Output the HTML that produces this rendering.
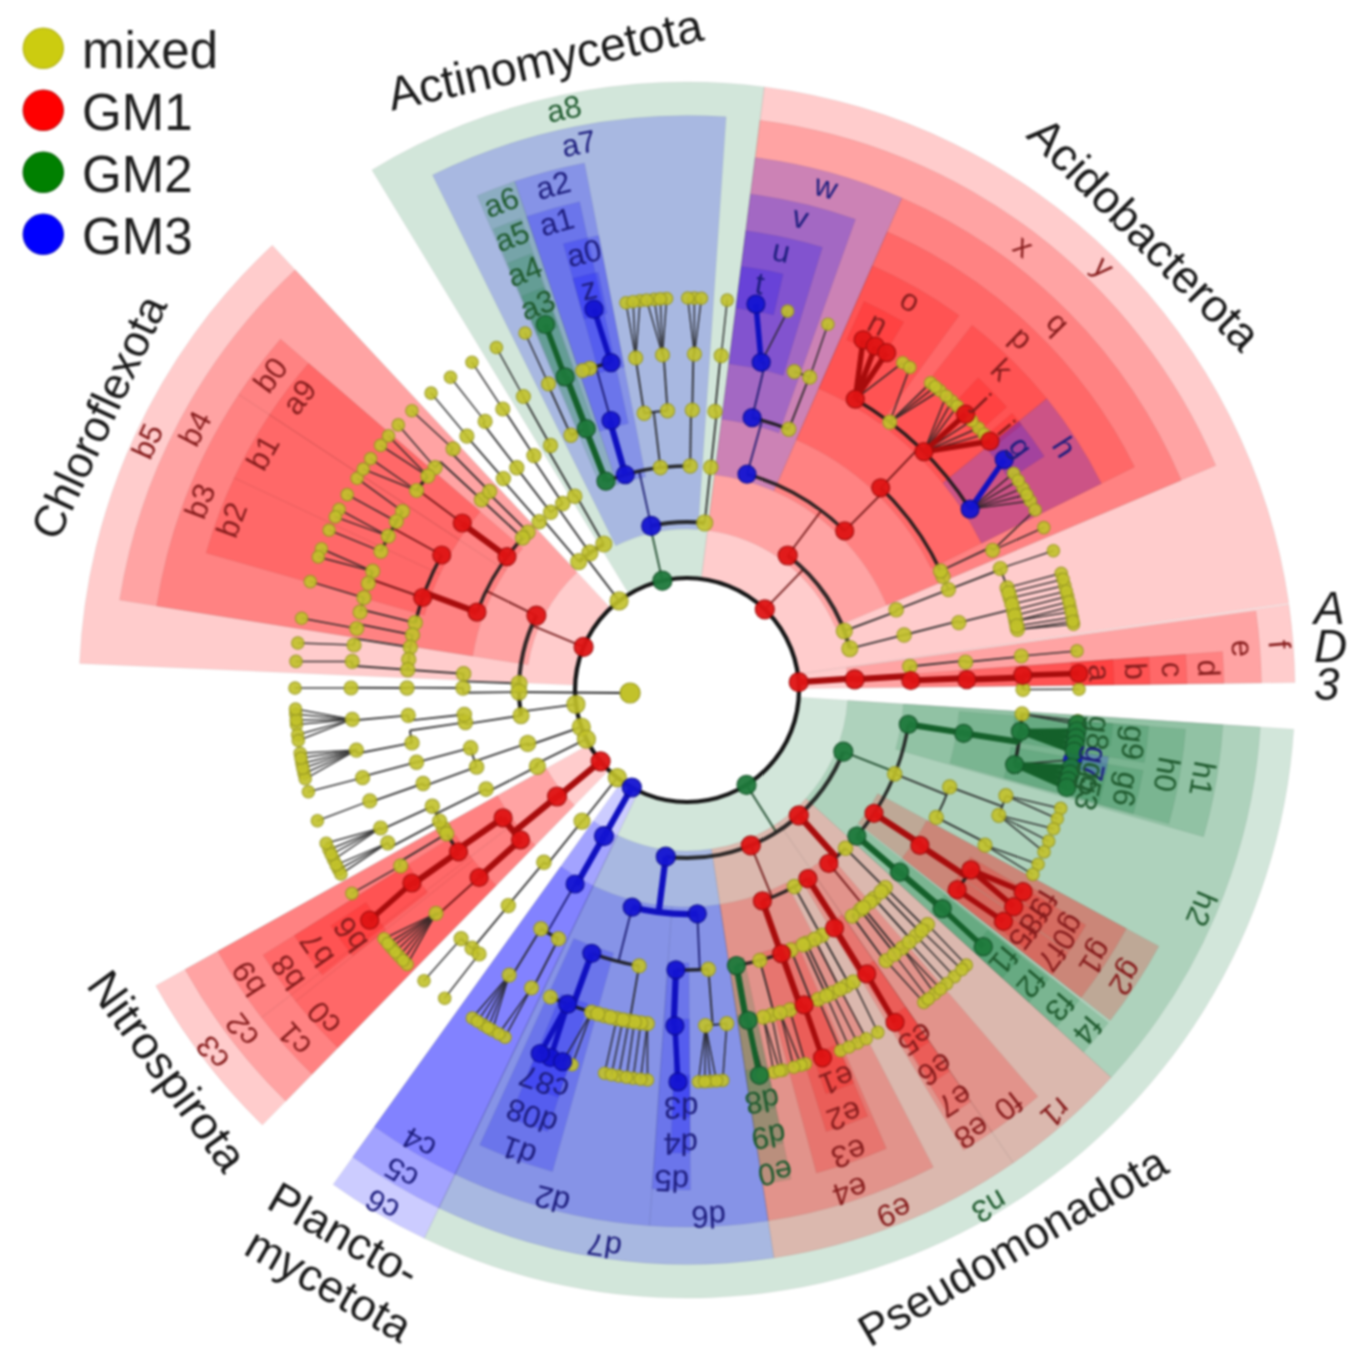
<!DOCTYPE html>
<html><head><meta charset="utf-8"><style>
html,body{margin:0;padding:0;background:#fff;}
svg{display:block;font-family:"Liberation Sans",sans-serif;filter:blur(1.0px);}
</style></head><body>
<svg width="1366" height="1371" viewBox="0 0 1366 1371">
<rect width="1366" height="1371" fill="#ffffff"/>
<path d="M79.6,663.5 A608,608 0 0 1 272.3,245.3 L609.9,607.4 A113,113 0 0 0 574.1,685.1Z" fill="#ff0000" fill-opacity="0.2" stroke="#000" stroke-opacity="0.05" stroke-width="1"/>
<path d="M372.0,169.9 A608,608 0 0 1 764.3,86.9 L701.4,577.9 A113,113 0 0 0 628.5,593.3Z" fill="#1e8246" fill-opacity="0.2" stroke="#000" stroke-opacity="0.05" stroke-width="1"/>
<path d="M764.3,86.9 A608,608 0 0 1 1288.8,603.3 L798.8,673.9 A113,113 0 0 0 701.4,577.9Z" fill="#ff0000" fill-opacity="0.2" stroke="#000" stroke-opacity="0.05" stroke-width="1"/>
<path d="M1288.9,604.3 A608,608 0 0 1 1295.0,682.6 L800.0,688.6 A113,113 0 0 0 798.9,674.1Z" fill="#ff0000" fill-opacity="0.2" stroke="#000" stroke-opacity="0.05" stroke-width="1"/>
<path d="M1293.7,729.2 A608,608 0 0 1 424.3,1238.3 L638.2,791.9 A113,113 0 0 0 799.8,697.3Z" fill="#1e8246" fill-opacity="0.2" stroke="#000" stroke-opacity="0.05" stroke-width="1"/>
<path d="M424.3,1238.3 A608,608 0 0 1 333.1,1184.4 L621.2,781.9 A113,113 0 0 0 638.2,791.9Z" fill="#0000ff" fill-opacity="0.2" stroke="#000" stroke-opacity="0.05" stroke-width="1"/>
<path d="M262.4,1125.1 A608,608 0 0 1 155.7,985.7 L588.3,745.0 A113,113 0 0 0 608.1,770.9Z" fill="#ff0000" fill-opacity="0.2" stroke="#000" stroke-opacity="0.05" stroke-width="1"/>
<path d="M119.6,600.1 A574.5,574.5 0 0 1 295.2,269.8 L577.2,572.3 A161,161 0 0 0 528.0,664.8Z" fill="#ff0000" fill-opacity="0.2" stroke="#000" stroke-opacity="0.05" stroke-width="1"/>
<path d="M432.5,175.0 A574.5,574.5 0 0 1 726.1,116.8 L698.0,529.4 A161,161 0 0 0 615.7,545.7Z" fill="#0000ff" fill-opacity="0.2" stroke="#000" stroke-opacity="0.05" stroke-width="1"/>
<path d="M760.0,120.2 A574.5,574.5 0 0 1 1215.8,465.5 L835.2,627.1 A161,161 0 0 0 707.5,530.3Z" fill="#ff0000" fill-opacity="0.2" stroke="#000" stroke-opacity="0.05" stroke-width="1"/>
<path d="M1256.0,611.0 A574.5,574.5 0 0 1 1261.5,683.0 L848.0,688.0 A161,161 0 0 0 846.5,667.9Z" fill="#ff0000" fill-opacity="0.2" stroke="#000" stroke-opacity="0.05" stroke-width="1"/>
<path d="M1260.3,727.1 A574.5,574.5 0 0 1 1111.2,1077.4 L805.9,798.6 A161,161 0 0 0 847.7,700.4Z" fill="#1e8246" fill-opacity="0.2" stroke="#000" stroke-opacity="0.05" stroke-width="1"/>
<path d="M1111.2,1077.4 A574.5,574.5 0 0 1 1013.2,1162.9 L778.4,822.5 A161,161 0 0 0 805.9,798.6Z" fill="#ff0000" fill-opacity="0.2" stroke="#000" stroke-opacity="0.05" stroke-width="1"/>
<path d="M1013.2,1162.9 A574.5,574.5 0 0 1 773.9,1257.9 L711.4,849.1 A161,161 0 0 0 778.4,822.5Z" fill="#ff0000" fill-opacity="0.2" stroke="#000" stroke-opacity="0.05" stroke-width="1"/>
<path d="M773.9,1257.9 A574.5,574.5 0 0 1 438.8,1208.1 L617.4,835.2 A161,161 0 0 0 711.4,849.1Z" fill="#0000ff" fill-opacity="0.2" stroke="#000" stroke-opacity="0.05" stroke-width="1"/>
<path d="M438.8,1208.1 A574.5,574.5 0 0 1 352.6,1157.1 L593.3,820.9 A161,161 0 0 0 617.4,835.2Z" fill="#0000ff" fill-opacity="0.2" stroke="#000" stroke-opacity="0.05" stroke-width="1"/>
<path d="M285.8,1101.2 A574.5,574.5 0 0 1 185.0,969.4 L546.3,768.3 A161,161 0 0 0 574.6,805.2Z" fill="#ff0000" fill-opacity="0.2" stroke="#000" stroke-opacity="0.05" stroke-width="1"/>
<path d="M156.6,606.0 A537,537 0 0 1 238.7,394.4 L505.8,570.5 A217,217 0 0 0 472.7,656.1Z" fill="#ff0000" fill-opacity="0.2" stroke="#000" stroke-opacity="0.05" stroke-width="1"/>
<path d="M238.7,394.4 A537,537 0 0 1 280.5,339.1 L522.7,548.2 A217,217 0 0 0 505.8,570.5Z" fill="#ff0000" fill-opacity="0.2" stroke="#000" stroke-opacity="0.05" stroke-width="1"/>
<path d="M477.2,195.7 A537,537 0 0 1 514.8,181.3 L617.4,484.5 A217,217 0 0 0 602.2,490.3Z" fill="#1e8246" fill-opacity="0.2" stroke="#000" stroke-opacity="0.05" stroke-width="1"/>
<path d="M514.8,181.3 A537,537 0 0 1 584.5,162.9 L645.6,477.0 A217,217 0 0 0 617.4,484.5Z" fill="#0000ff" fill-opacity="0.2" stroke="#000" stroke-opacity="0.05" stroke-width="1"/>
<path d="M755.2,157.4 A537,537 0 0 1 902.0,197.9 L773.9,491.1 A217,217 0 0 0 714.6,474.8Z" fill="#0000ff" fill-opacity="0.2" stroke="#000" stroke-opacity="0.05" stroke-width="1"/>
<path d="M902.0,197.9 A537,537 0 0 1 1181.3,480.2 L886.7,605.2 A217,217 0 0 0 773.9,491.1Z" fill="#ff0000" fill-opacity="0.2" stroke="#000" stroke-opacity="0.05" stroke-width="1"/>
<path d="M1222.6,651.6 A537,537 0 0 1 1224.0,683.4 L904.0,687.3 A217,217 0 0 0 903.4,674.5Z" fill="#ff0000" fill-opacity="0.2" stroke="#000" stroke-opacity="0.05" stroke-width="1"/>
<path d="M1222.9,724.7 A537,537 0 0 1 1203.6,836.7 L895.7,749.3 A217,217 0 0 0 903.5,704.0Z" fill="#1e8246" fill-opacity="0.2" stroke="#000" stroke-opacity="0.05" stroke-width="1"/>
<path d="M1158.9,946.2 A537,537 0 0 1 1110.2,1020.6 L858.0,823.6 A217,217 0 0 0 877.7,793.5Z" fill="#ff0000" fill-opacity="0.2" stroke="#000" stroke-opacity="0.05" stroke-width="1"/>
<path d="M1108.4,1022.8 A537,537 0 0 1 1083.6,1052.1 L847.2,836.3 A217,217 0 0 0 857.3,824.5Z" fill="#1e8246" fill-opacity="0.2" stroke="#000" stroke-opacity="0.05" stroke-width="1"/>
<path d="M1037.9,1096.5 A537,537 0 0 1 991.9,1132.0 L810.2,868.6 A217,217 0 0 0 828.8,854.3Z" fill="#ff0000" fill-opacity="0.2" stroke="#000" stroke-opacity="0.05" stroke-width="1"/>
<path d="M991.9,1132.0 A537,537 0 0 1 963.6,1150.3 L798.8,876.0 A217,217 0 0 0 810.2,868.6Z" fill="#ff0000" fill-opacity="0.2" stroke="#000" stroke-opacity="0.05" stroke-width="1"/>
<path d="M933.3,1167.2 A537,537 0 0 1 768.2,1220.8 L719.8,904.5 A217,217 0 0 0 786.5,882.8Z" fill="#ff0000" fill-opacity="0.2" stroke="#000" stroke-opacity="0.05" stroke-width="1"/>
<path d="M768.2,1220.8 A537,537 0 0 1 649.5,1225.7 L671.9,906.5 A217,217 0 0 0 719.8,904.5Z" fill="#0000ff" fill-opacity="0.2" stroke="#000" stroke-opacity="0.05" stroke-width="1"/>
<path d="M649.5,1225.7 A537,537 0 0 1 455.0,1174.3 L593.2,885.7 A217,217 0 0 0 671.9,906.5Z" fill="#0000ff" fill-opacity="0.2" stroke="#000" stroke-opacity="0.05" stroke-width="1"/>
<path d="M455.0,1174.3 A537,537 0 0 1 374.4,1126.6 L560.7,866.4 A217,217 0 0 0 593.2,885.7Z" fill="#0000ff" fill-opacity="0.2" stroke="#000" stroke-opacity="0.05" stroke-width="1"/>
<path d="M261.5,1017.6 A537,537 0 0 1 217.8,951.2 L497.4,795.5 A217,217 0 0 0 515.1,822.4Z" fill="#ff0000" fill-opacity="0.2" stroke="#000" stroke-opacity="0.05" stroke-width="1"/>
<path d="M312.0,1074.3 A537,537 0 0 1 261.5,1017.6 L515.1,822.4 A217,217 0 0 0 535.4,845.3Z" fill="#ff0000" fill-opacity="0.2" stroke="#000" stroke-opacity="0.05" stroke-width="1"/>
<path d="M206.1,553.0 A500,500 0 0 1 234.2,477.9 L439.8,574.2 A273,273 0 0 0 424.4,615.2Z" fill="#ff0000" fill-opacity="0.2" stroke="#000" stroke-opacity="0.05" stroke-width="1"/>
<path d="M234.2,477.9 A500,500 0 0 1 269.6,414.8 L459.1,539.7 A273,273 0 0 0 439.8,574.2Z" fill="#ff0000" fill-opacity="0.2" stroke="#000" stroke-opacity="0.05" stroke-width="1"/>
<path d="M269.6,414.8 A500,500 0 0 1 308.5,363.3 L480.3,511.6 A273,273 0 0 0 459.1,539.7Z" fill="#ff0000" fill-opacity="0.2" stroke="#000" stroke-opacity="0.05" stroke-width="1"/>
<path d="M493.2,229.1 A500,500 0 0 1 520.9,218.4 L596.3,432.5 A273,273 0 0 0 581.2,438.3Z" fill="#1e8246" fill-opacity="0.2" stroke="#000" stroke-opacity="0.05" stroke-width="1"/>
<path d="M526.7,216.4 A500,500 0 0 1 579.6,201.7 L628.4,423.4 A273,273 0 0 0 599.5,431.4Z" fill="#0000ff" fill-opacity="0.2" stroke="#000" stroke-opacity="0.05" stroke-width="1"/>
<path d="M750.5,194.1 A500,500 0 0 1 855.5,219.3 L779.0,433.0 A273,273 0 0 0 721.7,419.2Z" fill="#0000ff" fill-opacity="0.2" stroke="#000" stroke-opacity="0.05" stroke-width="1"/>
<path d="M887.2,231.8 A500,500 0 0 1 1134.5,466.9 L931.3,568.2 A273,273 0 0 0 796.3,439.8Z" fill="#ff0000" fill-opacity="0.2" stroke="#000" stroke-opacity="0.05" stroke-width="1"/>
<path d="M1185.7,654.3 A500,500 0 0 1 1187.0,683.9 L960.0,686.7 A273,273 0 0 0 959.3,670.5Z" fill="#ff0000" fill-opacity="0.2" stroke="#000" stroke-opacity="0.05" stroke-width="1"/>
<path d="M1185.5,729.2 A500,500 0 0 1 1168.8,823.6 L950.1,763.0 A273,273 0 0 0 959.2,711.4Z" fill="#1e8246" fill-opacity="0.2" stroke="#000" stroke-opacity="0.05" stroke-width="1"/>
<path d="M1126.4,928.6 A500,500 0 0 1 1081.0,997.8 L902.1,858.1 A273,273 0 0 0 926.9,820.3Z" fill="#ff0000" fill-opacity="0.2" stroke="#000" stroke-opacity="0.05" stroke-width="1"/>
<path d="M1079.4,999.9 A500,500 0 0 1 1056.2,1027.2 L888.6,874.1 A273,273 0 0 0 901.2,859.2Z" fill="#1e8246" fill-opacity="0.2" stroke="#000" stroke-opacity="0.05" stroke-width="1"/>
<path d="M970.9,1101.6 A500,500 0 0 1 949.0,1115.9 L830.0,922.5 A273,273 0 0 0 842.0,914.7Z" fill="#ff0000" fill-opacity="0.2" stroke="#000" stroke-opacity="0.05" stroke-width="1"/>
<path d="M886.4,1148.5 A500,500 0 0 1 816.4,1173.0 L757.7,953.7 A273,273 0 0 0 795.9,940.4Z" fill="#ff0000" fill-opacity="0.2" stroke="#000" stroke-opacity="0.05" stroke-width="1"/>
<path d="M791.0,1179.1 A500,500 0 0 1 762.6,1184.2 L728.3,959.9 A273,273 0 0 0 743.8,957.0Z" fill="#1e8246" fill-opacity="0.2" stroke="#000" stroke-opacity="0.05" stroke-width="1"/>
<path d="M690.5,1190.0 A500,500 0 0 1 652.1,1188.8 L668.0,962.3 A273,273 0 0 0 688.9,963.0Z" fill="#0000ff" fill-opacity="0.2" stroke="#000" stroke-opacity="0.05" stroke-width="1"/>
<path d="M552.5,1171.6 A500,500 0 0 1 479.7,1145.0 L573.8,938.4 A273,273 0 0 0 613.6,952.9Z" fill="#0000ff" fill-opacity="0.2" stroke="#000" stroke-opacity="0.05" stroke-width="1"/>
<path d="M295.7,1001.3 A500,500 0 0 1 263.0,955.0 L455.5,834.7 A273,273 0 0 0 473.3,859.9Z" fill="#ff0000" fill-opacity="0.2" stroke="#000" stroke-opacity="0.05" stroke-width="1"/>
<path d="M337.8,1047.8 A500,500 0 0 1 295.7,1001.3 L473.3,859.9 A273,273 0 0 0 496.3,885.4Z" fill="#ff0000" fill-opacity="0.2" stroke="#000" stroke-opacity="0.05" stroke-width="1"/>
<path d="M507.6,263.2 A463,463 0 0 1 531.7,253.8 L576.6,380.1 A329,329 0 0 0 559.5,386.7Z" fill="#1e8246" fill-opacity="0.2" stroke="#000" stroke-opacity="0.05" stroke-width="1"/>
<path d="M563.3,243.8 A463,463 0 0 1 598.7,235.5 L624.2,367.0 A329,329 0 0 0 599.1,373.0Z" fill="#0000ff" fill-opacity="0.2" stroke="#000" stroke-opacity="0.05" stroke-width="1"/>
<path d="M745.8,230.8 A463,463 0 0 1 822.4,247.2 L783.2,375.4 A329,329 0 0 0 728.8,363.7Z" fill="#0000ff" fill-opacity="0.2" stroke="#000" stroke-opacity="0.05" stroke-width="1"/>
<path d="M872.4,265.7 A463,463 0 0 1 959.1,315.4 L880.4,423.8 A329,329 0 0 0 818.7,388.5Z" fill="#ff0000" fill-opacity="0.2" stroke="#000" stroke-opacity="0.05" stroke-width="1"/>
<path d="M972.1,325.2 A463,463 0 0 1 1046.8,398.6 L942.7,483.0 A329,329 0 0 0 889.6,430.7Z" fill="#ff0000" fill-opacity="0.2" stroke="#000" stroke-opacity="0.05" stroke-width="1"/>
<path d="M1046.8,398.6 A463,463 0 0 1 1101.4,483.4 L981.4,543.2 A329,329 0 0 0 942.7,483.0Z" fill="#0000ff" fill-opacity="0.2" stroke="#000" stroke-opacity="0.05" stroke-width="1"/>
<path d="M1148.8,656.9 A463,463 0 0 1 1150.0,684.3 L1016.0,686.0 A329,329 0 0 0 1015.2,666.5Z" fill="#ff0000" fill-opacity="0.2" stroke="#000" stroke-opacity="0.05" stroke-width="1"/>
<path d="M1148.6,726.3 A463,463 0 0 1 1144.3,762.4 L1011.9,741.5 A329,329 0 0 0 1015.0,715.8Z" fill="#1e8246" fill-opacity="0.2" stroke="#000" stroke-opacity="0.05" stroke-width="1"/>
<path d="M1143.0,770.4 A463,463 0 0 1 1133.2,813.7 L1004.0,777.9 A329,329 0 0 0 1011.0,747.1Z" fill="#1e8246" fill-opacity="0.2" stroke="#000" stroke-opacity="0.05" stroke-width="1"/>
<path d="M1085.9,925.0 A463,463 0 0 1 1069.5,950.9 L958.8,875.4 A329,329 0 0 0 970.5,857.0Z" fill="#ff0000" fill-opacity="0.2" stroke="#000" stroke-opacity="0.05" stroke-width="1"/>
<path d="M1068.6,952.2 A463,463 0 0 1 1051.8,975.1 L946.3,892.6 A329,329 0 0 0 958.1,876.3Z" fill="#ff0000" fill-opacity="0.2" stroke="#000" stroke-opacity="0.05" stroke-width="1"/>
<path d="M1048.8,978.9 A463,463 0 0 1 1028.9,1002.2 L930.0,911.8 A329,329 0 0 0 944.1,895.3Z" fill="#1e8246" fill-opacity="0.2" stroke="#000" stroke-opacity="0.05" stroke-width="1"/>
<path d="M949.9,1071.1 A463,463 0 0 1 931.0,1083.5 L860.4,969.6 A329,329 0 0 0 873.8,960.8Z" fill="#ff0000" fill-opacity="0.2" stroke="#000" stroke-opacity="0.05" stroke-width="1"/>
<path d="M867.9,1116.2 A463,463 0 0 1 826.2,1131.6 L785.9,1003.8 A329,329 0 0 0 815.6,992.8Z" fill="#ff0000" fill-opacity="0.2" stroke="#000" stroke-opacity="0.05" stroke-width="1"/>
<path d="M783.3,1142.9 A463,463 0 0 1 757.0,1147.7 L736.8,1015.2 A329,329 0 0 0 755.4,1011.8Z" fill="#1e8246" fill-opacity="0.2" stroke="#000" stroke-opacity="0.05" stroke-width="1"/>
<path d="M690.2,1153.0 A463,463 0 0 1 670.8,1152.7 L675.5,1018.8 A329,329 0 0 0 689.3,1019.0Z" fill="#0000ff" fill-opacity="0.2" stroke="#000" stroke-opacity="0.05" stroke-width="1"/>
<path d="M547.8,1131.6 A463,463 0 0 1 509.8,1117.8 L561.1,994.0 A329,329 0 0 0 588.1,1003.8Z" fill="#0000ff" fill-opacity="0.2" stroke="#000" stroke-opacity="0.05" stroke-width="1"/>
<path d="M322.2,975.1 A463,463 0 0 1 294.4,935.4 L408.0,864.3 A329,329 0 0 0 427.7,892.6Z" fill="#ff0000" fill-opacity="0.2" stroke="#000" stroke-opacity="0.05" stroke-width="1"/>
<path d="M521.5,296.4 A427,427 0 0 1 543.8,287.7 L557.9,327.3 A385,385 0 0 0 537.8,335.1Z" fill="#1e8246" fill-opacity="0.2" stroke="#000" stroke-opacity="0.05" stroke-width="1"/>
<path d="M572.9,278.5 A427,427 0 0 1 598.2,272.3 L607.0,313.4 A385,385 0 0 0 584.1,319.0Z" fill="#0000ff" fill-opacity="0.2" stroke="#000" stroke-opacity="0.05" stroke-width="1"/>
<path d="M741.3,266.5 A427,427 0 0 1 783.1,273.9 L773.6,314.9 A385,385 0 0 0 735.9,308.1Z" fill="#0000ff" fill-opacity="0.2" stroke="#000" stroke-opacity="0.05" stroke-width="1"/>
<path d="M864.1,301.4 A427,427 0 0 1 903.7,322.1 L882.4,358.3 A385,385 0 0 0 846.7,339.7Z" fill="#ff0000" fill-opacity="0.2" stroke="#000" stroke-opacity="0.05" stroke-width="1"/>
<path d="M978.2,377.7 A427,427 0 0 1 1006.8,407.1 L975.3,434.9 A385,385 0 0 0 949.6,408.4Z" fill="#ff0000" fill-opacity="0.2" stroke="#000" stroke-opacity="0.05" stroke-width="1"/>
<path d="M1012.2,413.3 A427,427 0 0 1 1021.6,424.8 L988.7,450.9 A385,385 0 0 0 980.2,440.5Z" fill="#ff0000" fill-opacity="0.2" stroke="#000" stroke-opacity="0.05" stroke-width="1"/>
<path d="M1018.8,421.3 A427,427 0 0 1 1044.3,456.2 L1009.2,479.2 A385,385 0 0 0 986.2,447.7Z" fill="#0000ff" fill-opacity="0.2" stroke="#000" stroke-opacity="0.05" stroke-width="1"/>
<path d="M1112.9,659.5 A427,427 0 0 1 1114.0,684.8 L1072.0,685.3 A385,385 0 0 0 1071.0,662.5Z" fill="#ff0000" fill-opacity="0.2" stroke="#000" stroke-opacity="0.05" stroke-width="1"/>
<path d="M1112.7,723.5 A427,427 0 0 1 1110.3,745.7 L1068.7,740.3 A385,385 0 0 0 1070.8,720.2Z" fill="#1e8246" fill-opacity="0.2" stroke="#000" stroke-opacity="0.05" stroke-width="1"/>
<path d="M1108.7,756.8 A427,427 0 0 1 1105.4,775.1 L1064.3,766.8 A385,385 0 0 0 1067.3,750.2Z" fill="#0000ff" fill-opacity="0.2" stroke="#000" stroke-opacity="0.05" stroke-width="1"/>
<path d="M1105.3,775.9 A427,427 0 0 1 1102.4,789.0 L1061.5,779.2 A385,385 0 0 0 1064.1,767.4Z" fill="#1e8246" fill-opacity="0.2" stroke="#000" stroke-opacity="0.05" stroke-width="1"/>
<path d="M1102.2,789.7 A427,427 0 0 1 1098.9,802.7 L1058.4,791.6 A385,385 0 0 0 1061.4,779.9Z" fill="#1e8246" fill-opacity="0.2" stroke="#000" stroke-opacity="0.05" stroke-width="1"/>
<path d="M1057.5,902.2 A427,427 0 0 1 1048.3,917.5 L1012.8,895.2 A385,385 0 0 0 1021.1,881.3Z" fill="#ff0000" fill-opacity="0.2" stroke="#000" stroke-opacity="0.05" stroke-width="1"/>
<path d="M1047.5,918.8 A427,427 0 0 1 1037.6,933.7 L1003.1,909.7 A385,385 0 0 0 1012.1,896.3Z" fill="#ff0000" fill-opacity="0.2" stroke="#000" stroke-opacity="0.05" stroke-width="1"/>
<path d="M1036.8,934.9 A427,427 0 0 1 1026.2,949.3 L992.8,923.8 A385,385 0 0 0 1002.4,910.8Z" fill="#ff0000" fill-opacity="0.2" stroke="#000" stroke-opacity="0.05" stroke-width="1"/>
<path d="M1020.7,956.4 A427,427 0 0 1 1002.3,977.9 L971.3,949.6 A385,385 0 0 0 987.9,930.2Z" fill="#1e8246" fill-opacity="0.2" stroke="#000" stroke-opacity="0.05" stroke-width="1"/>
<path d="M929.5,1041.5 A427,427 0 0 1 912.0,1052.9 L889.9,1017.2 A385,385 0 0 0 905.6,1006.9Z" fill="#ff0000" fill-opacity="0.2" stroke="#000" stroke-opacity="0.05" stroke-width="1"/>
<path d="M853.8,1083.1 A427,427 0 0 1 826.0,1093.7 L812.3,1054.0 A385,385 0 0 0 837.4,1044.4Z" fill="#ff0000" fill-opacity="0.2" stroke="#000" stroke-opacity="0.05" stroke-width="1"/>
<path d="M775.8,1107.7 A427,427 0 0 1 751.6,1112.1 L745.2,1070.6 A385,385 0 0 0 767.0,1066.6Z" fill="#1e8246" fill-opacity="0.2" stroke="#000" stroke-opacity="0.05" stroke-width="1"/>
<path d="M690.0,1117.0 A427,427 0 0 1 672.1,1116.7 L673.6,1074.8 A385,385 0 0 0 689.7,1075.0Z" fill="#0000ff" fill-opacity="0.2" stroke="#000" stroke-opacity="0.05" stroke-width="1"/>
<path d="M558.6,1097.2 A427,427 0 0 1 523.6,1084.5 L539.7,1045.7 A385,385 0 0 0 571.2,1057.2Z" fill="#0000ff" fill-opacity="0.2" stroke="#000" stroke-opacity="0.05" stroke-width="1"/>
<path d="M352.8,955.8 A427,427 0 0 1 330.9,925.7 L366.0,902.5 A385,385 0 0 0 385.7,929.7Z" fill="#ff0000" fill-opacity="0.2" stroke="#000" stroke-opacity="0.05" stroke-width="1"/>
<circle cx="687" cy="690" r="112" fill="none" stroke="#141414" stroke-width="4.2"/>
<g opacity="0.88">
<path d="M662.4,580.7 L650.2,526.1" stroke="#123f20" stroke-width="1.9" fill="none"/>
<path d="M619.1,600.9 L585.2,556.4" stroke="#202020" stroke-width="1.9" fill="none"/>
<path d="M583.6,646.9 L531.9,625.4" stroke="#6a1010" stroke-width="1.9" fill="none"/>
<path d="M575.9,704.4 L520.4,711.6" stroke="#202020" stroke-width="1.9" fill="none"/>
<path d="M581.3,727.0 L528.4,745.5" stroke="#202020" stroke-width="1.9" fill="none"/>
<path d="M586.4,739.2 L536.1,763.8" stroke="#202020" stroke-width="1.9" fill="none"/>
<path d="M617.3,777.6 L582.4,821.5" stroke="#202020" stroke-width="1.9" fill="none"/>
<path d="M746.5,784.9 L776.3,832.3" stroke="#123f20" stroke-width="1.9" fill="none"/>
<path d="M764.8,609.4 L803.6,569.1" stroke="#6a1010" stroke-width="1.9" fill="none"/>
<path d="M651.2,525.9 L639.2,471.2" stroke="#14146a" stroke-width="1.9" fill="none"/>
<path d="M704.7,522.9 L710.6,467.2" stroke="#202020" stroke-width="1.9" fill="none"/>
<path d="M787.7,555.5 L821.2,510.7" stroke="#6a1010" stroke-width="1.9" fill="none"/>
<path d="M844.3,631.0 L896.7,611.3" stroke="#202020" stroke-width="1.9" fill="none"/>
<path d="M849.8,648.6 L904.1,634.9" stroke="#202020" stroke-width="1.9" fill="none"/>
<path d="M843.3,751.7 L895.4,772.2" stroke="#123f20" stroke-width="1.9" fill="none"/>
<path d="M750.8,845.4 L772.1,897.2" stroke="#6a1010" stroke-width="1.9" fill="none"/>
<path d="M582.0,821.1 L546.9,864.8" stroke="#202020" stroke-width="1.9" fill="none"/>
<path d="M537.4,766.4 L487.5,791.9" stroke="#202020" stroke-width="1.9" fill="none"/>
<path d="M527.7,743.4 L474.6,761.3" stroke="#202020" stroke-width="1.9" fill="none"/>
<path d="M521.0,715.6 L465.6,724.1" stroke="#202020" stroke-width="1.9" fill="none"/>
<path d="M519.1,683.5 L463.2,681.4" stroke="#202020" stroke-width="1.9" fill="none"/>
<path d="M536.4,615.6 L486.2,590.8" stroke="#6a1010" stroke-width="1.9" fill="none"/>
<path d="M603.8,544.0 L576.1,495.4" stroke="#202020" stroke-width="1.9" fill="none"/>
<path d="M589.9,552.9 L557.5,507.2" stroke="#202020" stroke-width="1.9" fill="none"/>
<path d="M578.7,561.6 L542.5,518.8" stroke="#202020" stroke-width="1.9" fill="none"/>
<path d="M844.7,530.9 L884.1,491.1" stroke="#6a1010" stroke-width="1.9" fill="none"/>
<path d="M845.5,848.3 L885.1,887.9" stroke="#202020" stroke-width="1.9" fill="none"/>
<path d="M828.8,863.4 L864.3,906.7" stroke="#6a1010" stroke-width="1.9" fill="none"/>
<path d="M543.9,862.3 L508.1,905.4" stroke="#202020" stroke-width="1.9" fill="none"/>
<path d="M528.0,532.2 L488.3,492.8" stroke="#202020" stroke-width="1.9" fill="none"/>
<path d="M992.6,550.4 L1035.2,509.9" stroke="#202020" stroke-width="1.5" fill="none"/>
<path d="M992.6,550.4 L1043.8,527.6" stroke="#202020" stroke-width="1.5" fill="none"/>
<path d="M1000.3,568.5 L1053.4,550.7" stroke="#202020" stroke-width="1.5" fill="none"/>
<path d="M948.4,589.6 L1000.6,569.5" stroke="#202020" stroke-width="1.9" fill="none"/>
<path d="M896.2,609.8 L948.4,589.7" stroke="#202020" stroke-width="1.9" fill="none"/>
<path d="M904.1,635.0 L958.4,621.2" stroke="#202020" stroke-width="1.9" fill="none"/>
<path d="M958.8,622.6 L1013.1,609.2" stroke="#202020" stroke-width="1.9" fill="none"/>
<path d="M1007.1,587.8 L1061.2,573.3" stroke="#202020" stroke-width="1.5" fill="none"/>
<path d="M1010.2,598.2 L1064.8,585.6" stroke="#202020" stroke-width="1.5" fill="none"/>
<path d="M1013.4,610.3 L1067.6,596.3" stroke="#202020" stroke-width="1.5" fill="none"/>
<path d="M1015.8,620.7 L1070.0,606.7" stroke="#202020" stroke-width="1.5" fill="none"/>
<path d="M1015.8,620.7 L1071.1,611.8" stroke="#202020" stroke-width="1.5" fill="none"/>
<path d="M1017.5,629.5 L1073.5,624.3" stroke="#202020" stroke-width="1.5" fill="none"/>
<path d="M1017.5,629.5 L1072.9,621.3" stroke="#202020" stroke-width="1.5" fill="none"/>
<path d="M909.8,666.5 L965.5,660.6" stroke="#202020" stroke-width="1.9" fill="none"/>
<path d="M965.6,662.1 L1021.3,656.6" stroke="#202020" stroke-width="1.9" fill="none"/>
<path d="M1021.3,656.0 L1077.0,650.9" stroke="#202020" stroke-width="1.5" fill="none"/>
<path d="M1023.0,689.4 L1079.0,689.3" stroke="#202020" stroke-width="1.5" fill="none"/>
<path d="M1022.1,713.9 L1077.5,724.2" stroke="#202020" stroke-width="1.5" fill="none"/>
<path d="M1022.1,713.9 L1077.8,720.8" stroke="#202020" stroke-width="1.5" fill="none"/>
<path d="M1014.6,764.6 L1072.7,759.8" stroke="#202020" stroke-width="1.5" fill="none"/>
<path d="M894.7,773.9 L946.6,794.9" stroke="#202020" stroke-width="1.9" fill="none"/>
<path d="M949.7,786.9 L1002.2,806.3" stroke="#202020" stroke-width="1.9" fill="none"/>
<path d="M936.3,817.4 L986.2,842.9" stroke="#202020" stroke-width="1.9" fill="none"/>
<path d="M1005.9,795.7 L1060.7,808.4" stroke="#202020" stroke-width="1.5" fill="none"/>
<path d="M1005.9,795.7 L1057.3,818.7" stroke="#202020" stroke-width="1.5" fill="none"/>
<path d="M998.8,815.3 L1053.6,828.8" stroke="#202020" stroke-width="1.5" fill="none"/>
<path d="M998.8,815.3 L1048.7,841.1" stroke="#202020" stroke-width="1.5" fill="none"/>
<path d="M998.8,815.3 L1044.0,851.9" stroke="#202020" stroke-width="1.5" fill="none"/>
<path d="M985.0,845.2 L1038.1,864.3" stroke="#202020" stroke-width="1.5" fill="none"/>
<path d="M985.0,845.2 L1032.9,874.4" stroke="#202020" stroke-width="1.5" fill="none"/>
<path d="M885.3,887.6 L925.0,927.2" stroke="#202020" stroke-width="1.9" fill="none"/>
<path d="M886.1,960.7 L923.8,1002.4" stroke="#202020" stroke-width="1.5" fill="none"/>
<path d="M902.1,948.1 L934.8,993.8" stroke="#202020" stroke-width="1.5" fill="none"/>
<path d="M902.1,948.1 L940.5,989.0" stroke="#202020" stroke-width="1.5" fill="none"/>
<path d="M916.1,935.8 L954.4,976.6" stroke="#202020" stroke-width="1.5" fill="none"/>
<path d="M927.5,924.6 L966.3,965.1" stroke="#202020" stroke-width="1.5" fill="none"/>
<path d="M874.0,898.4 L911.4,940.0" stroke="#202020" stroke-width="1.9" fill="none"/>
<path d="M860.3,909.9 L894.9,953.9" stroke="#202020" stroke-width="1.9" fill="none"/>
<path d="M852.2,916.1 L885.2,961.3" stroke="#202020" stroke-width="1.9" fill="none"/>
<path d="M822.1,935.3 L849.1,984.3" stroke="#202020" stroke-width="1.9" fill="none"/>
<path d="M806.5,943.2 L830.4,993.9" stroke="#202020" stroke-width="1.9" fill="none"/>
<path d="M791.0,950.0 L811.8,1002.0" stroke="#202020" stroke-width="1.9" fill="none"/>
<path d="M832.5,992.9 L857.5,1043.0" stroke="#202020" stroke-width="1.5" fill="none"/>
<path d="M818.2,999.3 L840.5,1050.7" stroke="#202020" stroke-width="1.5" fill="none"/>
<path d="M771.4,1015.2 L782.8,1070.1" stroke="#202020" stroke-width="1.5" fill="none"/>
<path d="M789.8,1009.9 L805.5,1063.7" stroke="#202020" stroke-width="1.5" fill="none"/>
<path d="M632.2,907.2 L618.5,961.5" stroke="#14146a" stroke-width="1.9" fill="none"/>
<path d="M697.3,913.8 L699.8,969.7" stroke="#14146a" stroke-width="1.9" fill="none"/>
<path d="M794.4,886.6 L821.2,935.7" stroke="#202020" stroke-width="1.9" fill="none"/>
<path d="M639.1,965.9 L629.6,1021.1" stroke="#202020" stroke-width="1.9" fill="none"/>
<path d="M708.4,969.2 L712.7,1025.0" stroke="#202020" stroke-width="1.9" fill="none"/>
<path d="M759.8,960.4 L774.3,1014.5" stroke="#202020" stroke-width="1.9" fill="none"/>
<path d="M616.8,1018.6 L604.6,1073.2" stroke="#202020" stroke-width="1.5" fill="none"/>
<path d="M628.9,1020.9 L618.7,1076.0" stroke="#202020" stroke-width="1.5" fill="none"/>
<path d="M647.4,1023.7 L647.5,1080.0" stroke="#202020" stroke-width="1.5" fill="none"/>
<path d="M647.4,1023.7 L640.6,1079.2" stroke="#202020" stroke-width="1.5" fill="none"/>
<path d="M705.5,1025.5 L698.4,1081.8" stroke="#202020" stroke-width="1.5" fill="none"/>
<path d="M705.5,1025.5 L710.5,1081.3" stroke="#202020" stroke-width="1.5" fill="none"/>
<path d="M705.5,1025.5 L716.4,1080.9" stroke="#202020" stroke-width="1.5" fill="none"/>
<path d="M705.5,1025.5 L704.8,1081.6" stroke="#202020" stroke-width="1.5" fill="none"/>
<path d="M726.8,1023.6 L722.7,1080.4" stroke="#202020" stroke-width="1.5" fill="none"/>
<path d="M748.1,1020.4 L762.9,1074.6" stroke="#202020" stroke-width="1.5" fill="none"/>
<path d="M763.3,1017.2 L773.9,1072.2" stroke="#202020" stroke-width="1.5" fill="none"/>
<path d="M763.3,1017.2 L779.8,1070.8" stroke="#202020" stroke-width="1.5" fill="none"/>
<path d="M853.3,981.9 L877.8,1032.4" stroke="#202020" stroke-width="1.5" fill="none"/>
<path d="M575.1,884.0 L547.1,932.6" stroke="#14146a" stroke-width="1.9" fill="none"/>
<path d="M540.9,928.8 L511.6,976.6" stroke="#202020" stroke-width="1.9" fill="none"/>
<path d="M558.5,938.8 L532.8,988.5" stroke="#202020" stroke-width="1.9" fill="none"/>
<path d="M509.2,975.1 L472.3,1018.0" stroke="#202020" stroke-width="1.5" fill="none"/>
<path d="M509.2,975.1 L483.1,1024.8" stroke="#202020" stroke-width="1.5" fill="none"/>
<path d="M509.2,975.1 L492.3,1030.2" stroke="#202020" stroke-width="1.5" fill="none"/>
<path d="M509.2,975.1 L488.0,1027.8" stroke="#202020" stroke-width="1.5" fill="none"/>
<path d="M509.2,975.1 L477.5,1021.3" stroke="#202020" stroke-width="1.5" fill="none"/>
<path d="M531.5,987.9 L505.0,1037.2" stroke="#202020" stroke-width="1.5" fill="none"/>
<path d="M531.5,987.9 L498.8,1033.8" stroke="#202020" stroke-width="1.5" fill="none"/>
<path d="M591.6,1012.2 L572.1,1064.8" stroke="#202020" stroke-width="1.5" fill="none"/>
<path d="M591.6,1012.2 L562.6,1061.7" stroke="#202020" stroke-width="1.5" fill="none"/>
<path d="M508.3,905.6 L472.6,948.7" stroke="#202020" stroke-width="1.9" fill="none"/>
<path d="M479.1,877.5 L437.5,915.0" stroke="#6a1010" stroke-width="1.9" fill="none"/>
<path d="M486.1,789.1 L435.9,813.8" stroke="#202020" stroke-width="1.9" fill="none"/>
<path d="M432.3,806.3 L381.4,829.6" stroke="#202020" stroke-width="1.9" fill="none"/>
<path d="M436.0,913.4 L384.0,938.7" stroke="#202020" stroke-width="1.5" fill="none"/>
<path d="M436.0,913.4 L391.4,947.4" stroke="#202020" stroke-width="1.5" fill="none"/>
<path d="M436.0,913.4 L399.1,956.0" stroke="#202020" stroke-width="1.5" fill="none"/>
<path d="M436.0,913.4 L407.1,964.4" stroke="#202020" stroke-width="1.5" fill="none"/>
<path d="M436.0,913.4 L403.1,960.3" stroke="#202020" stroke-width="1.5" fill="none"/>
<path d="M436.0,913.4 L395.2,951.8" stroke="#202020" stroke-width="1.5" fill="none"/>
<path d="M436.0,913.4 L388.0,943.5" stroke="#202020" stroke-width="1.5" fill="none"/>
<path d="M461.1,938.7 L424.0,980.7" stroke="#202020" stroke-width="1.5" fill="none"/>
<path d="M479.1,954.0 L444.7,998.2" stroke="#202020" stroke-width="1.5" fill="none"/>
<path d="M352.3,719.4 L295.8,714.3" stroke="#202020" stroke-width="1.5" fill="none"/>
<path d="M352.3,719.4 L296.5,724.6" stroke="#202020" stroke-width="1.5" fill="none"/>
<path d="M352.3,719.4 L297.6,734.7" stroke="#202020" stroke-width="1.5" fill="none"/>
<path d="M352.3,719.4 L298.3,740.5" stroke="#202020" stroke-width="1.5" fill="none"/>
<path d="M352.3,719.4 L296.2,720.1" stroke="#202020" stroke-width="1.5" fill="none"/>
<path d="M352.3,719.4 L295.5,709.1" stroke="#202020" stroke-width="1.5" fill="none"/>
<path d="M408.2,715.4 L352.4,720.5" stroke="#202020" stroke-width="1.9" fill="none"/>
<path d="M412.0,742.9 L357.1,753.5" stroke="#202020" stroke-width="1.9" fill="none"/>
<path d="M465.4,722.4 L409.9,730.5" stroke="#202020" stroke-width="1.9" fill="none"/>
<path d="M356.4,750.1 L300.2,753.3" stroke="#202020" stroke-width="1.5" fill="none"/>
<path d="M356.4,750.1 L301.9,763.5" stroke="#202020" stroke-width="1.5" fill="none"/>
<path d="M356.4,750.1 L304.0,773.5" stroke="#202020" stroke-width="1.5" fill="none"/>
<path d="M356.4,750.1 L305.2,778.8" stroke="#202020" stroke-width="1.5" fill="none"/>
<path d="M356.4,750.1 L302.9,768.2" stroke="#202020" stroke-width="1.5" fill="none"/>
<path d="M356.4,750.1 L301.0,758.1" stroke="#202020" stroke-width="1.5" fill="none"/>
<path d="M416.5,762.2 L362.4,776.6" stroke="#202020" stroke-width="1.9" fill="none"/>
<path d="M470.6,747.9 L416.5,762.4" stroke="#202020" stroke-width="1.9" fill="none"/>
<path d="M476.6,766.9 L424.0,786.2" stroke="#202020" stroke-width="1.9" fill="none"/>
<path d="M362.6,777.7 L308.4,791.8" stroke="#202020" stroke-width="1.5" fill="none"/>
<path d="M423.1,783.5 L370.3,802.2" stroke="#202020" stroke-width="1.9" fill="none"/>
<path d="M369.8,800.9 L317.4,820.7" stroke="#202020" stroke-width="1.5" fill="none"/>
<path d="M439.6,821.1 L390.1,847.3" stroke="#202020" stroke-width="1.9" fill="none"/>
<path d="M380.6,828.0 L329.0,849.7" stroke="#202020" stroke-width="1.5" fill="none"/>
<path d="M380.6,828.0 L333.6,859.7" stroke="#202020" stroke-width="1.5" fill="none"/>
<path d="M380.6,828.0 L331.2,854.4" stroke="#202020" stroke-width="1.5" fill="none"/>
<path d="M380.6,828.0 L326.2,843.2" stroke="#202020" stroke-width="1.5" fill="none"/>
<path d="M387.8,842.9 L338.5,869.5" stroke="#202020" stroke-width="1.5" fill="none"/>
<path d="M387.8,842.9 L340.9,874.0" stroke="#202020" stroke-width="1.5" fill="none"/>
<path d="M387.8,842.9 L336.2,864.9" stroke="#202020" stroke-width="1.5" fill="none"/>
<path d="M446.7,833.7 L398.6,862.4" stroke="#202020" stroke-width="1.9" fill="none"/>
<path d="M400.7,865.9 L351.9,893.4" stroke="#202020" stroke-width="1.5" fill="none"/>
<path d="M462.3,523.0 L417.3,489.6" stroke="#6a1010" stroke-width="1.9" fill="none"/>
<path d="M441.7,555.0 L392.6,528.0" stroke="#6a1010" stroke-width="1.9" fill="none"/>
<path d="M422.7,597.5 L369.9,579.0" stroke="#6a1010" stroke-width="1.9" fill="none"/>
<path d="M522.6,537.9 L481.5,499.8" stroke="#202020" stroke-width="1.9" fill="none"/>
<path d="M415.2,622.8 L360.8,609.4" stroke="#202020" stroke-width="1.9" fill="none"/>
<path d="M412.5,634.9 L357.6,623.9" stroke="#202020" stroke-width="1.9" fill="none"/>
<path d="M410.3,647.2 L355.0,638.6" stroke="#202020" stroke-width="1.9" fill="none"/>
<path d="M407.7,669.7 L351.9,665.7" stroke="#202020" stroke-width="1.9" fill="none"/>
<path d="M388.3,536.1 L339.1,509.4" stroke="#202020" stroke-width="1.5" fill="none"/>
<path d="M388.3,536.1 L335.3,516.9" stroke="#202020" stroke-width="1.5" fill="none"/>
<path d="M380.9,551.4 L329.1,530.1" stroke="#202020" stroke-width="1.5" fill="none"/>
<path d="M372.7,571.2 L321.4,548.7" stroke="#202020" stroke-width="1.5" fill="none"/>
<path d="M372.7,571.2 L318.3,556.9" stroke="#202020" stroke-width="1.5" fill="none"/>
<path d="M363.9,597.7 L310.3,581.6" stroke="#202020" stroke-width="1.5" fill="none"/>
<path d="M356.7,628.5 L301.6,618.3" stroke="#202020" stroke-width="1.5" fill="none"/>
<path d="M354.0,645.0 L297.8,643.0" stroke="#202020" stroke-width="1.5" fill="none"/>
<path d="M352.2,661.4 L296.0,661.4" stroke="#202020" stroke-width="1.5" fill="none"/>
<path d="M453.1,448.8 L411.9,410.7" stroke="#202020" stroke-width="1.5" fill="none"/>
<path d="M435.1,467.6 L398.3,424.9" stroke="#202020" stroke-width="1.5" fill="none"/>
<path d="M416.6,490.5 L370.6,458.6" stroke="#202020" stroke-width="1.5" fill="none"/>
<path d="M416.6,490.5 L363.2,469.1" stroke="#202020" stroke-width="1.5" fill="none"/>
<path d="M402.5,511.3 L357.1,478.3" stroke="#202020" stroke-width="1.5" fill="none"/>
<path d="M396.3,521.5 L347.2,494.6" stroke="#202020" stroke-width="1.5" fill="none"/>
<path d="M481.5,499.8 L440.4,461.8" stroke="#202020" stroke-width="1.9" fill="none"/>
<path d="M489.6,491.5 L450.1,451.7" stroke="#202020" stroke-width="1.9" fill="none"/>
<path d="M503.4,478.6 L466.7,436.3" stroke="#202020" stroke-width="1.9" fill="none"/>
<path d="M516.8,467.7 L482.7,423.2" stroke="#202020" stroke-width="1.9" fill="none"/>
<path d="M533.9,455.6 L503.3,408.7" stroke="#202020" stroke-width="1.9" fill="none"/>
<path d="M463.6,673.8 L407.7,669.7" stroke="#202020" stroke-width="1.9" fill="none"/>
<path d="M463.0,688.0 L407.0,687.6" stroke="#202020" stroke-width="1.9" fill="none"/>
<path d="M351.0,688.0 L295.0,688.0" stroke="#202020" stroke-width="1.5" fill="none"/>
<path d="M407.0,688.0 L351.0,687.7" stroke="#202020" stroke-width="1.9" fill="none"/>
<path d="M464.3,714.5 L408.7,720.6" stroke="#202020" stroke-width="1.9" fill="none"/>
<path d="M660.4,467.6 L653.8,412.0" stroke="#202020" stroke-width="1.9" fill="none"/>
<path d="M611.0,420.5 L595.9,366.6" stroke="#14146a" stroke-width="1.9" fill="none"/>
<path d="M570.9,435.2 L547.7,384.2" stroke="#202020" stroke-width="1.9" fill="none"/>
<path d="M548.5,383.9 L525.1,333.0" stroke="#202020" stroke-width="1.5" fill="none"/>
<path d="M635.7,357.9 L626.0,302.8" stroke="#202020" stroke-width="1.5" fill="none"/>
<path d="M635.7,357.9 L640.1,300.8" stroke="#202020" stroke-width="1.5" fill="none"/>
<path d="M635.7,357.9 L633.1,301.7" stroke="#202020" stroke-width="1.5" fill="none"/>
<path d="M662.5,354.9 L654.3,299.4" stroke="#202020" stroke-width="1.5" fill="none"/>
<path d="M662.5,354.9 L666.6,298.5" stroke="#202020" stroke-width="1.5" fill="none"/>
<path d="M662.5,354.9 L646.7,300.1" stroke="#202020" stroke-width="1.5" fill="none"/>
<path d="M662.5,354.9 L660.3,298.9" stroke="#202020" stroke-width="1.5" fill="none"/>
<path d="M644.2,413.3 L635.6,358.0" stroke="#202020" stroke-width="1.9" fill="none"/>
<path d="M523.4,396.5 L496.4,347.5" stroke="#202020" stroke-width="1.5" fill="none"/>
<path d="M502.8,409.0 L472.0,362.2" stroke="#202020" stroke-width="1.5" fill="none"/>
<path d="M485.1,421.4 L450.5,377.3" stroke="#202020" stroke-width="1.5" fill="none"/>
<path d="M466.9,436.1 L431.1,393.1" stroke="#202020" stroke-width="1.5" fill="none"/>
<path d="M550.5,445.5 L523.2,396.6" stroke="#202020" stroke-width="1.9" fill="none"/>
<path d="M574.7,496.2 L546.7,447.7" stroke="#202020" stroke-width="1.9" fill="none"/>
<path d="M562.8,503.6 L531.8,457.0" stroke="#202020" stroke-width="1.9" fill="none"/>
<path d="M550.7,512.3 L516.6,467.8" stroke="#202020" stroke-width="1.9" fill="none"/>
<path d="M539.2,521.7 L502.3,479.6" stroke="#202020" stroke-width="1.9" fill="none"/>
<path d="M427.8,476.1 L380.6,445.4" stroke="#202020" stroke-width="1.5" fill="none"/>
<path d="M427.8,476.1 L388.5,435.9" stroke="#202020" stroke-width="1.5" fill="none"/>
<path d="M747.0,474.2 L762.1,420.2" stroke="#14146a" stroke-width="1.9" fill="none"/>
<path d="M752.1,417.7 L765.2,363.2" stroke="#14146a" stroke-width="1.9" fill="none"/>
<path d="M761.2,362.3 L787.6,311.1" stroke="#202020" stroke-width="1.5" fill="none"/>
<path d="M788.8,429.2 L809.2,377.0" stroke="#202020" stroke-width="1.9" fill="none"/>
<path d="M809.7,377.2 L827.9,324.2" stroke="#202020" stroke-width="1.5" fill="none"/>
<path d="M855.3,399.2 L902.7,362.7" stroke="#202020" stroke-width="1.5" fill="none"/>
<path d="M721.2,355.7 L727.2,300.1" stroke="#202020" stroke-width="1.5" fill="none"/>
<path d="M715.0,411.4 L720.6,355.7" stroke="#202020" stroke-width="1.9" fill="none"/>
<path d="M710.8,467.3 L716.8,411.6" stroke="#202020" stroke-width="1.9" fill="none"/>
<path d="M694.4,354.1 L694.3,298.1" stroke="#202020" stroke-width="1.5" fill="none"/>
<path d="M694.4,354.1 L687.7,298.0" stroke="#202020" stroke-width="1.5" fill="none"/>
<path d="M694.4,354.1 L701.4,298.3" stroke="#202020" stroke-width="1.5" fill="none"/>
<path d="M667.5,410.7 L663.6,354.8" stroke="#202020" stroke-width="1.9" fill="none"/>
<path d="M692.3,410.1 L693.4,354.1" stroke="#202020" stroke-width="1.9" fill="none"/>
<path d="M690.2,466.0 L691.0,410.0" stroke="#202020" stroke-width="1.9" fill="none"/>
<path d="M880.7,487.8 L919.4,447.3" stroke="#6a1010" stroke-width="1.9" fill="none"/>
<path d="M923.9,451.7 L951.9,401.1" stroke="#202020" stroke-width="1.5" fill="none"/>
<path d="M923.9,451.7 L978.5,428.0" stroke="#202020" stroke-width="1.5" fill="none"/>
<path d="M923.9,451.7 L946.2,396.0" stroke="#202020" stroke-width="1.5" fill="none"/>
<path d="M923.9,451.7 L957.3,406.1" stroke="#202020" stroke-width="1.5" fill="none"/>
<path d="M923.9,451.7 L971.8,420.7" stroke="#202020" stroke-width="1.5" fill="none"/>
<path d="M923.9,451.7 L984.2,434.4" stroke="#202020" stroke-width="1.5" fill="none"/>
<path d="M889.8,422.1 L909.8,367.4" stroke="#202020" stroke-width="1.5" fill="none"/>
<path d="M889.8,422.1 L930.6,382.9" stroke="#202020" stroke-width="1.5" fill="none"/>
<path d="M889.8,422.1 L939.9,390.5" stroke="#202020" stroke-width="1.5" fill="none"/>
<path d="M889.8,422.1 L935.3,386.7" stroke="#202020" stroke-width="1.5" fill="none"/>
<path d="M970.1,509.1 L1013.6,473.2" stroke="#202020" stroke-width="1.5" fill="none"/>
<path d="M970.1,509.1 L1023.0,488.2" stroke="#202020" stroke-width="1.5" fill="none"/>
<path d="M970.1,509.1 L1030.4,501.0" stroke="#202020" stroke-width="1.5" fill="none"/>
<path d="M970.1,509.1 L1018.3,480.5" stroke="#202020" stroke-width="1.5" fill="none"/>
<path d="M970.1,509.1 L1026.8,494.6" stroke="#202020" stroke-width="1.5" fill="none"/>
<path d="M940.5,571.0 L991.1,547.2" stroke="#202020" stroke-width="1.9" fill="none"/>
<path d="M640.8,1022.8 L633.1,1078.3" stroke="#202020" stroke-width="1.5" fill="none"/>
<path d="M634.4,1021.9 L626.4,1077.3" stroke="#202020" stroke-width="1.5" fill="none"/>
<path d="M622.9,1019.8 L611.5,1074.7" stroke="#202020" stroke-width="1.5" fill="none"/>
<path d="M1008.7,592.9 L1063.1,579.3" stroke="#202020" stroke-width="1.5" fill="none"/>
<path d="M1011.9,604.2 L1066.3,591.2" stroke="#202020" stroke-width="1.5" fill="none"/>
<path d="M1014.7,615.6 L1069.0,601.8" stroke="#202020" stroke-width="1.5" fill="none"/>
<path d="M1016.8,625.9 L1072.2,617.2" stroke="#202020" stroke-width="1.5" fill="none"/>
<path d="M814.6,939.3 L840.1,989.1" stroke="#202020" stroke-width="1.9" fill="none"/>
<path d="M803.1,944.8 L826.3,995.7" stroke="#202020" stroke-width="1.9" fill="none"/>
<path d="M881.2,891.8 L920.0,932.1" stroke="#202020" stroke-width="1.9" fill="none"/>
<path d="M863.2,907.6 L898.5,951.1" stroke="#202020" stroke-width="1.9" fill="none"/>
<path d="M840.1,989.1 L866.2,1038.7" stroke="#202020" stroke-width="1.5" fill="none"/>
<path d="M826.3,995.7 L848.9,1047.0" stroke="#202020" stroke-width="1.5" fill="none"/>
<path d="M780.2,1012.8 L801.0,1065.1" stroke="#202020" stroke-width="1.5" fill="none"/>
<path d="M780.2,1012.8 L793.7,1067.2" stroke="#202020" stroke-width="1.5" fill="none"/>
<path d="M921.7,930.5 L961.8,969.6" stroke="#202020" stroke-width="1.5" fill="none"/>
<path d="M909.2,942.0 L946.7,983.6" stroke="#202020" stroke-width="1.5" fill="none"/>
<path d="M894.3,954.4 L928.3,998.9" stroke="#202020" stroke-width="1.5" fill="none"/>
<path d="M519.0,692.1 L463.0,692.7" stroke="#202020" stroke-width="1.9" fill="none"/>
<path d="M650.2,526.1 A168,168 0 0 1 704.7,522.9" fill="none" stroke="#141414" stroke-width="4.0"/>
<path d="M578.7,561.6 A168,168 0 0 1 603.8,544.0" fill="none" stroke="#141414" stroke-width="4.0"/>
<path d="M519.0,692.1 A168,168 0 0 1 536.4,615.6" fill="none" stroke="#141414" stroke-width="4.0"/>
<path d="M521.0,715.6 A168,168 0 0 1 520.4,711.6" fill="none" stroke="#141414" stroke-width="4.0"/>
<path d="M528.4,745.5 A168,168 0 0 1 527.7,743.4" fill="none" stroke="#141414" stroke-width="4.0"/>
<path d="M537.4,766.4 A168,168 0 0 1 536.1,763.8" fill="none" stroke="#141414" stroke-width="4.0"/>
<path d="M557.5,797.0 A168,168 0 0 1 557.1,796.5" fill="none" stroke="#141414" stroke-width="4.0"/>
<path d="M582.4,821.5 A168,168 0 0 1 582.0,821.1" fill="none" stroke="#141414" stroke-width="4.0"/>
<path d="M604.2,836.2 A168,168 0 0 1 604.0,836.1" fill="none" stroke="#141414" stroke-width="4.0"/>
<path d="M843.3,751.7 A168,168 0 0 1 665.8,856.7" fill="none" stroke="#141414" stroke-width="4.0"/>
<path d="M854.6,678.3 A168,168 0 0 1 854.7,679.3" fill="none" stroke="#141414" stroke-width="4.0"/>
<path d="M787.7,555.5 A168,168 0 0 1 849.8,648.6" fill="none" stroke="#141414" stroke-width="4.0"/>
<path d="M605.9,481.2 A224,224 0 0 1 690.2,466.0" fill="none" stroke="#141414" stroke-width="3.4"/>
<path d="M710.6,467.2 A224,224 0 0 1 710.8,467.3" fill="none" stroke="#141414" stroke-width="1.9"/>
<path d="M747.0,474.2 A224,224 0 0 1 844.7,530.9" fill="none" stroke="#141414" stroke-width="3.4"/>
<path d="M896.2,609.8 A224,224 0 0 1 896.7,611.3" fill="none" stroke="#141414" stroke-width="1.9"/>
<path d="M909.8,666.5 A224,224 0 0 1 910.8,680.5" fill="none" stroke="#141414" stroke-width="3.4"/>
<path d="M908.3,724.4 A224,224 0 0 1 856.8,836.1" fill="none" stroke="#141414" stroke-width="3.4"/>
<path d="M845.5,848.3 A224,224 0 0 1 828.8,863.4" fill="none" stroke="#141414" stroke-width="3.4"/>
<path d="M807.9,878.6 A224,224 0 0 1 762.4,900.9" fill="none" stroke="#141414" stroke-width="3.4"/>
<path d="M697.3,913.8 A224,224 0 0 1 632.2,907.2" fill="none" stroke="#141414" stroke-width="3.4"/>
<path d="M546.9,864.8 A224,224 0 0 1 543.9,862.3" fill="none" stroke="#141414" stroke-width="1.9"/>
<path d="M520.5,839.9 A224,224 0 0 1 503.1,817.9" fill="none" stroke="#141414" stroke-width="3.4"/>
<path d="M487.5,791.9 A224,224 0 0 1 486.1,789.1" fill="none" stroke="#141414" stroke-width="1.9"/>
<path d="M476.6,766.9 A224,224 0 0 1 470.6,747.9" fill="none" stroke="#141414" stroke-width="1.9"/>
<path d="M465.6,724.1 A224,224 0 0 1 464.3,714.5" fill="none" stroke="#141414" stroke-width="1.9"/>
<path d="M463.2,681.4 A224,224 0 0 1 463.6,673.8" fill="none" stroke="#141414" stroke-width="1.9"/>
<path d="M477.0,612.1 A224,224 0 0 1 528.0,532.2" fill="none" stroke="#141414" stroke-width="3.4"/>
<path d="M574.7,496.2 A224,224 0 0 1 576.1,495.4" fill="none" stroke="#141414" stroke-width="1.9"/>
<path d="M550.7,512.3 A224,224 0 0 1 562.8,503.6" fill="none" stroke="#141414" stroke-width="1.9"/>
<path d="M539.2,521.7 A224,224 0 0 1 542.5,518.8" fill="none" stroke="#141414" stroke-width="1.9"/>
<path d="M880.7,487.8 A280,280 0 0 1 940.5,571.0" fill="none" stroke="#141414" stroke-width="3.4"/>
<path d="M920.8,844.1 A280,280 0 0 1 919.9,845.4" fill="none" stroke="#141414" stroke-width="3.4"/>
<path d="M899.6,872.2 A280,280 0 0 1 899.3,872.6" fill="none" stroke="#141414" stroke-width="3.4"/>
<path d="M885.3,887.6 A280,280 0 0 1 881.2,891.8" fill="none" stroke="#141414" stroke-width="1.9"/>
<path d="M874.0,898.4 A280,280 0 0 1 852.2,916.1" fill="none" stroke="#141414" stroke-width="3.4"/>
<path d="M838.1,925.7 A280,280 0 0 1 834.5,928.0" fill="none" stroke="#141414" stroke-width="3.4"/>
<path d="M576.4,884.8 A224,224 0 0 1 575.1,884.0" fill="none" stroke="#141414" stroke-width="3.4"/>
<path d="M458.5,851.8 A280,280 0 0 1 446.7,833.7" fill="none" stroke="#141414" stroke-width="3.4"/>
<path d="M488.3,492.8 A280,280 0 0 1 489.6,491.5" fill="none" stroke="#141414" stroke-width="1.9"/>
<path d="M462.0,523.4 A280,280 0 0 1 462.3,523.0" fill="none" stroke="#141414" stroke-width="3.4"/>
<path d="M1000.3,568.5 A336,336 0 0 1 1007.1,587.8" fill="none" stroke="#141414" stroke-width="1.9"/>
<path d="M943.0,576.6 A280,280 0 0 1 948.4,589.7" fill="none" stroke="#141414" stroke-width="1.9"/>
<path d="M958.4,621.2 A280,280 0 0 1 958.8,622.6" fill="none" stroke="#141414" stroke-width="1.9"/>
<path d="M1008.7,592.9 A336,336 0 0 1 1017.5,629.5" fill="none" stroke="#141414" stroke-width="1.9"/>
<path d="M965.5,660.6 A280,280 0 0 1 965.6,662.1" fill="none" stroke="#141414" stroke-width="1.9"/>
<path d="M1021.3,656.0 A336,336 0 0 1 1021.3,656.6" fill="none" stroke="#141414" stroke-width="1.9"/>
<path d="M966.8,678.2 A280,280 0 0 1 966.8,679.7" fill="none" stroke="#141414" stroke-width="3.4"/>
<path d="M1022.7,675.3 A336,336 0 0 1 1023.0,689.4" fill="none" stroke="#141414" stroke-width="3.4"/>
<path d="M963.7,733.0 A280,280 0 0 1 963.6,733.3" fill="none" stroke="#141414" stroke-width="3.4"/>
<path d="M1022.1,713.9 A336,336 0 0 1 1014.6,764.6" fill="none" stroke="#141414" stroke-width="3.4"/>
<path d="M949.7,786.9 A280,280 0 0 1 936.3,817.4" fill="none" stroke="#141414" stroke-width="1.9"/>
<path d="M1005.9,795.7 A336,336 0 0 1 998.8,815.3" fill="none" stroke="#141414" stroke-width="1.9"/>
<path d="M986.2,842.9 A336,336 0 0 1 985.0,845.2" fill="none" stroke="#141414" stroke-width="1.9"/>
<path d="M970.8,869.9 A336,336 0 0 1 957.2,889.7" fill="none" stroke="#141414" stroke-width="3.4"/>
<path d="M927.5,924.6 A336,336 0 0 1 925.0,927.2" fill="none" stroke="#141414" stroke-width="1.9"/>
<path d="M791.0,950.0 A280,280 0 0 1 736.4,965.6" fill="none" stroke="#141414" stroke-width="3.4"/>
<path d="M866.7,973.9 A336,336 0 0 1 864.0,975.6" fill="none" stroke="#141414" stroke-width="3.4"/>
<path d="M804.1,1004.9 A336,336 0 0 1 789.8,1009.9" fill="none" stroke="#141414" stroke-width="3.4"/>
<path d="M911.4,940.0 A336,336 0 0 1 909.2,942.0" fill="none" stroke="#141414" stroke-width="1.9"/>
<path d="M894.9,953.9 A336,336 0 0 1 894.3,954.4" fill="none" stroke="#141414" stroke-width="1.9"/>
<path d="M886.1,960.7 A336,336 0 0 1 885.2,961.3" fill="none" stroke="#141414" stroke-width="1.9"/>
<path d="M853.3,981.9 A336,336 0 0 1 846.4,985.8" fill="none" stroke="#141414" stroke-width="1.9"/>
<path d="M832.5,992.9 A336,336 0 0 1 830.4,993.9" fill="none" stroke="#141414" stroke-width="1.9"/>
<path d="M818.2,999.3 A336,336 0 0 1 811.8,1002.0" fill="none" stroke="#141414" stroke-width="1.9"/>
<path d="M639.1,965.9 A280,280 0 0 1 591.8,953.3" fill="none" stroke="#141414" stroke-width="3.4"/>
<path d="M708.4,969.2 A280,280 0 0 1 675.9,969.8" fill="none" stroke="#141414" stroke-width="3.4"/>
<path d="M822.1,935.3 A280,280 0 0 1 803.1,944.8" fill="none" stroke="#141414" stroke-width="1.9"/>
<path d="M647.4,1023.7 A336,336 0 0 1 604.2,1015.6" fill="none" stroke="#141414" stroke-width="1.9"/>
<path d="M674.9,1025.8 A336,336 0 0 1 673.7,1025.7" fill="none" stroke="#141414" stroke-width="3.4"/>
<path d="M726.8,1023.6 A336,336 0 0 1 705.5,1025.5" fill="none" stroke="#141414" stroke-width="1.9"/>
<path d="M748.1,1020.4 A336,336 0 0 1 746.3,1020.7" fill="none" stroke="#141414" stroke-width="3.4"/>
<path d="M780.2,1012.8 A336,336 0 0 1 763.3,1017.2" fill="none" stroke="#141414" stroke-width="1.9"/>
<path d="M558.5,938.8 A280,280 0 0 1 540.9,928.8" fill="none" stroke="#141414" stroke-width="3.4"/>
<path d="M597.8,1013.9 A336,336 0 0 1 550.4,997.0" fill="none" stroke="#141414" stroke-width="3.4"/>
<path d="M511.6,976.6 A336,336 0 0 1 509.2,975.1" fill="none" stroke="#141414" stroke-width="1.9"/>
<path d="M532.8,988.5 A336,336 0 0 1 531.5,987.9" fill="none" stroke="#141414" stroke-width="1.9"/>
<path d="M479.1,954.0 A336,336 0 0 1 461.1,938.7" fill="none" stroke="#141414" stroke-width="1.9"/>
<path d="M412.7,884.1 A336,336 0 0 1 411.9,883.0" fill="none" stroke="#141414" stroke-width="3.4"/>
<path d="M437.5,915.0 A336,336 0 0 1 436.0,913.4" fill="none" stroke="#141414" stroke-width="3.4"/>
<path d="M443.6,828.4 A280,280 0 0 1 432.3,806.3" fill="none" stroke="#141414" stroke-width="1.9"/>
<path d="M381.4,829.6 A336,336 0 0 1 380.6,828.0" fill="none" stroke="#141414" stroke-width="1.9"/>
<path d="M352.4,720.5 A336,336 0 0 1 352.3,719.4" fill="none" stroke="#141414" stroke-width="1.9"/>
<path d="M357.1,753.5 A336,336 0 0 1 356.4,750.1" fill="none" stroke="#141414" stroke-width="1.9"/>
<path d="M412.0,742.9 A280,280 0 0 1 409.9,730.5" fill="none" stroke="#141414" stroke-width="1.9"/>
<path d="M362.6,777.7 A336,336 0 0 1 362.4,776.6" fill="none" stroke="#141414" stroke-width="1.9"/>
<path d="M424.0,786.2 A280,280 0 0 1 423.1,783.5" fill="none" stroke="#141414" stroke-width="1.9"/>
<path d="M370.3,802.2 A336,336 0 0 1 369.8,800.9" fill="none" stroke="#141414" stroke-width="1.9"/>
<path d="M390.1,847.3 A336,336 0 0 1 387.8,842.9" fill="none" stroke="#141414" stroke-width="1.9"/>
<path d="M400.7,865.9 A336,336 0 0 1 398.6,862.4" fill="none" stroke="#141414" stroke-width="1.9"/>
<path d="M415.2,622.8 A280,280 0 0 1 441.7,555.0" fill="none" stroke="#141414" stroke-width="3.4"/>
<path d="M416.6,490.5 A336,336 0 0 1 427.8,476.1" fill="none" stroke="#141414" stroke-width="3.4"/>
<path d="M380.9,551.4 A336,336 0 0 1 402.5,511.3" fill="none" stroke="#141414" stroke-width="3.4"/>
<path d="M368.3,583.4 A336,336 0 0 1 372.7,571.2" fill="none" stroke="#141414" stroke-width="3.4"/>
<path d="M360.1,612.2 A336,336 0 0 1 363.9,597.7" fill="none" stroke="#141414" stroke-width="1.9"/>
<path d="M356.7,628.5 A336,336 0 0 1 357.6,623.9" fill="none" stroke="#141414" stroke-width="1.9"/>
<path d="M354.0,645.0 A336,336 0 0 1 355.0,638.6" fill="none" stroke="#141414" stroke-width="1.9"/>
<path d="M351.9,665.7 A336,336 0 0 1 352.2,661.4" fill="none" stroke="#141414" stroke-width="1.9"/>
<path d="M435.1,467.6 A336,336 0 0 1 440.4,461.8" fill="none" stroke="#141414" stroke-width="1.9"/>
<path d="M450.1,451.7 A336,336 0 0 1 453.1,448.8" fill="none" stroke="#141414" stroke-width="1.9"/>
<path d="M466.7,436.3 A336,336 0 0 1 466.9,436.1" fill="none" stroke="#141414" stroke-width="1.9"/>
<path d="M482.7,423.2 A336,336 0 0 1 485.1,421.4" fill="none" stroke="#141414" stroke-width="1.9"/>
<path d="M502.8,409.0 A336,336 0 0 1 503.3,408.7" fill="none" stroke="#141414" stroke-width="1.9"/>
<path d="M407.7,669.7 A280,280 0 0 1 412.5,634.9" fill="none" stroke="#141414" stroke-width="1.9"/>
<path d="M407.0,688.0 A280,280 0 0 1 407.0,687.6" fill="none" stroke="#141414" stroke-width="1.9"/>
<path d="M351.0,688.0 A336,336 0 0 1 351.0,687.7" fill="none" stroke="#141414" stroke-width="1.9"/>
<path d="M408.7,720.6 A280,280 0 0 1 408.2,715.4" fill="none" stroke="#141414" stroke-width="1.9"/>
<path d="M570.9,435.2 A280,280 0 0 1 586.3,428.7" fill="none" stroke="#141414" stroke-width="3.4"/>
<path d="M609.9,420.8 A280,280 0 0 1 611.0,420.5" fill="none" stroke="#141414" stroke-width="3.4"/>
<path d="M644.2,413.3 A280,280 0 0 1 667.5,410.7" fill="none" stroke="#141414" stroke-width="1.9"/>
<path d="M565.0,376.9 A336,336 0 0 1 566.2,376.5" fill="none" stroke="#141414" stroke-width="3.4"/>
<path d="M582.7,370.6 A336,336 0 0 1 611.0,362.7" fill="none" stroke="#141414" stroke-width="3.4"/>
<path d="M547.7,384.2 A336,336 0 0 1 548.5,383.9" fill="none" stroke="#141414" stroke-width="1.9"/>
<path d="M546.7,447.7 A280,280 0 0 1 550.5,445.5" fill="none" stroke="#141414" stroke-width="1.9"/>
<path d="M531.8,457.0 A280,280 0 0 1 533.9,455.6" fill="none" stroke="#141414" stroke-width="1.9"/>
<path d="M516.6,467.8 A280,280 0 0 1 516.8,467.7" fill="none" stroke="#141414" stroke-width="1.9"/>
<path d="M502.3,479.6 A280,280 0 0 1 503.4,478.6" fill="none" stroke="#141414" stroke-width="1.9"/>
<path d="M752.1,417.7 A280,280 0 0 1 788.8,429.2" fill="none" stroke="#141414" stroke-width="3.4"/>
<path d="M761.2,362.3 A336,336 0 0 1 765.2,363.2" fill="none" stroke="#141414" stroke-width="3.4"/>
<path d="M794.3,371.6 A336,336 0 0 1 809.7,377.2" fill="none" stroke="#141414" stroke-width="1.9"/>
<path d="M720.6,355.7 A336,336 0 0 1 721.2,355.7" fill="none" stroke="#141414" stroke-width="1.9"/>
<path d="M715.0,411.4 A280,280 0 0 1 716.8,411.6" fill="none" stroke="#141414" stroke-width="1.9"/>
<path d="M662.5,354.9 A336,336 0 0 1 663.6,354.8" fill="none" stroke="#141414" stroke-width="1.9"/>
<path d="M693.4,354.1 A336,336 0 0 1 694.4,354.1" fill="none" stroke="#141414" stroke-width="1.9"/>
<path d="M691.0,410.0 A280,280 0 0 1 692.3,410.1" fill="none" stroke="#141414" stroke-width="1.9"/>
<path d="M855.3,399.2 A336,336 0 0 1 970.1,509.1" fill="none" stroke="#141414" stroke-width="3.4"/>
<path d="M991.1,547.2 A336,336 0 0 1 992.6,550.4" fill="none" stroke="#141414" stroke-width="1.9"/>
<path d="M921.7,930.5 A336,336 0 0 1 916.1,935.8" fill="none" stroke="#141414" stroke-width="1.9"/>
<path d="M902.1,948.1 A336,336 0 0 1 898.5,951.1" fill="none" stroke="#141414" stroke-width="1.9"/>
<path d="M463.0,692.7 A224,224 0 0 1 463.0,688.0" fill="none" stroke="#141414" stroke-width="1.9"/>
</g>
<path d="M600.6,761.3 L557.5,797.0" stroke="#a80c0c" stroke-width="6.2" fill="none"/>
<path d="M557.5,797.0 A168,168 0 0 1 557.1,796.5" stroke="#a80c0c" stroke-width="6.2" fill="none"/>
<path d="M631.8,787.5 L604.2,836.2" stroke="#1010c0" stroke-width="6.2" fill="none"/>
<path d="M604.2,836.2 A168,168 0 0 1 604.0,836.1" stroke="#1010c0" stroke-width="6.2" fill="none"/>
<path d="M798.7,682.2 L854.6,678.3" stroke="#a80c0c" stroke-width="6.2" fill="none"/>
<path d="M854.6,678.3 A168,168 0 0 1 854.7,679.3" stroke="#a80c0c" stroke-width="6.2" fill="none"/>
<path d="M854.7,679.3 L910.5,675.8" stroke="#a80c0c" stroke-width="6.2" fill="none"/>
<path d="M910.5,675.8 A224,224 0 0 1 910.8,680.5" stroke="#a80c0c" stroke-width="6.2" fill="none"/>
<path d="M798.8,815.4 L836.1,857.1" stroke="#a80c0c" stroke-width="6.2" fill="none"/>
<path d="M836.1,857.1 A224,224 0 0 1 828.8,863.4" stroke="#a80c0c" stroke-width="6.2" fill="none"/>
<path d="M665.8,856.7 L658.7,912.2" stroke="#1010c0" stroke-width="6.2" fill="none"/>
<path d="M697.3,913.8 A224,224 0 0 1 632.2,907.2" stroke="#1010c0" stroke-width="6.2" fill="none"/>
<path d="M557.1,796.5 L513.8,832.0" stroke="#a80c0c" stroke-width="6.2" fill="none"/>
<path d="M520.5,839.9 A224,224 0 0 1 503.1,817.9" stroke="#a80c0c" stroke-width="6.2" fill="none"/>
<path d="M874.0,813.3 L920.8,844.1" stroke="#a80c0c" stroke-width="6.2" fill="none"/>
<path d="M920.8,844.1 A280,280 0 0 1 919.9,845.4" stroke="#a80c0c" stroke-width="6.2" fill="none"/>
<path d="M856.8,836.1 L899.3,872.6" stroke="#14602a" stroke-width="6.2" fill="none"/>
<path d="M899.6,872.2 A280,280 0 0 1 899.3,872.6" stroke="#14602a" stroke-width="6.2" fill="none"/>
<path d="M807.9,878.6 L838.1,925.7" stroke="#a80c0c" stroke-width="6.2" fill="none"/>
<path d="M838.1,925.7 A280,280 0 0 1 834.5,928.0" stroke="#a80c0c" stroke-width="6.2" fill="none"/>
<path d="M604.0,836.1 L576.4,884.8" stroke="#1010c0" stroke-width="6.2" fill="none"/>
<path d="M576.4,884.8 A224,224 0 0 1 575.1,884.0" stroke="#1010c0" stroke-width="6.2" fill="none"/>
<path d="M520.5,839.9 L478.9,877.3" stroke="#a80c0c" stroke-width="6.2" fill="none"/>
<path d="M503.1,817.9 L457.1,849.8" stroke="#a80c0c" stroke-width="6.2" fill="none"/>
<path d="M458.5,851.8 A280,280 0 0 1 457.1,849.8" stroke="#a80c0c" stroke-width="6.2" fill="none"/>
<path d="M507.0,556.7 L462.0,523.4" stroke="#a80c0c" stroke-width="6.2" fill="none"/>
<path d="M462.0,523.4 A280,280 0 0 1 462.3,523.0" stroke="#a80c0c" stroke-width="6.2" fill="none"/>
<path d="M910.8,680.5 L966.8,678.2" stroke="#a80c0c" stroke-width="6.2" fill="none"/>
<path d="M966.8,678.2 A280,280 0 0 1 966.8,679.7" stroke="#a80c0c" stroke-width="6.2" fill="none"/>
<path d="M966.8,679.7 L1022.8,677.6" stroke="#a80c0c" stroke-width="6.2" fill="none"/>
<path d="M1022.7,675.3 A336,336 0 0 1 1022.8,677.6" stroke="#a80c0c" stroke-width="6.2" fill="none"/>
<path d="M1022.7,675.3 L1078.7,673.5" stroke="#a80c0c" stroke-width="5.5" fill="none"/>
<path d="M908.3,724.4 L963.7,733.0" stroke="#14602a" stroke-width="6.2" fill="none"/>
<path d="M963.7,733.0 A280,280 0 0 1 963.6,733.3" stroke="#14602a" stroke-width="6.2" fill="none"/>
<path d="M963.6,733.3 L1019.0,741.9" stroke="#14602a" stroke-width="6.2" fill="none"/>
<path d="M1020.4,731.4 A336,336 0 0 1 1019.0,741.9" stroke="#14602a" stroke-width="6.2" fill="none"/>
<path d="M1020.4,731.4 L1076.9,731.0" stroke="#14602a" stroke-width="5.5" fill="none"/>
<path d="M1020.4,731.4 L1076.1,737.8" stroke="#14602a" stroke-width="5.5" fill="none"/>
<path d="M1020.4,731.4 L1075.2,744.6" stroke="#14602a" stroke-width="5.5" fill="none"/>
<path d="M1020.4,731.4 L1074.2,751.3" stroke="#14602a" stroke-width="5.5" fill="none"/>
<path d="M1014.6,764.6 L1071.3,767.5" stroke="#14602a" stroke-width="5.5" fill="none"/>
<path d="M1014.6,764.6 L1069.9,774.2" stroke="#14602a" stroke-width="5.5" fill="none"/>
<path d="M1014.6,764.6 L1068.3,780.8" stroke="#14602a" stroke-width="5.5" fill="none"/>
<path d="M1014.6,764.6 L1066.7,787.5" stroke="#14602a" stroke-width="5.5" fill="none"/>
<path d="M919.9,845.4 L966.5,876.5" stroke="#a80c0c" stroke-width="6.2" fill="none"/>
<path d="M970.8,869.9 A336,336 0 0 1 966.5,876.5" stroke="#a80c0c" stroke-width="6.2" fill="none"/>
<path d="M970.8,869.9 L1023.1,891.7" stroke="#a80c0c" stroke-width="5.5" fill="none"/>
<path d="M970.8,869.9 L1013.7,906.7" stroke="#a80c0c" stroke-width="5.5" fill="none"/>
<path d="M957.2,889.7 L1003.5,921.3" stroke="#a80c0c" stroke-width="5.5" fill="none"/>
<path d="M899.6,872.2 L942.2,908.6" stroke="#14602a" stroke-width="6.2" fill="none"/>
<path d="M942.2,908.6 L983.3,946.7" stroke="#14602a" stroke-width="5.5" fill="none"/>
<path d="M762.4,900.9 L781.2,953.7" stroke="#a80c0c" stroke-width="6.2" fill="none"/>
<path d="M781.5,953.6 A280,280 0 0 1 781.2,953.7" stroke="#a80c0c" stroke-width="6.2" fill="none"/>
<path d="M834.5,928.0 L864.0,975.6" stroke="#a80c0c" stroke-width="6.2" fill="none"/>
<path d="M866.7,973.9 A336,336 0 0 1 864.0,975.6" stroke="#a80c0c" stroke-width="6.2" fill="none"/>
<path d="M866.7,973.9 L895.0,1022.3" stroke="#a80c0c" stroke-width="5.5" fill="none"/>
<path d="M781.5,953.6 L800.4,1006.3" stroke="#a80c0c" stroke-width="6.2" fill="none"/>
<path d="M804.1,1004.9 A336,336 0 0 1 800.4,1006.3" stroke="#a80c0c" stroke-width="6.2" fill="none"/>
<path d="M804.1,1004.9 L822.5,1057.8" stroke="#a80c0c" stroke-width="5.5" fill="none"/>
<path d="M675.9,969.8 L673.7,1025.7" stroke="#1010c0" stroke-width="6.2" fill="none"/>
<path d="M674.9,1025.8 A336,336 0 0 1 673.7,1025.7" stroke="#1010c0" stroke-width="6.2" fill="none"/>
<path d="M736.4,965.6 L746.3,1020.7" stroke="#14602a" stroke-width="6.2" fill="none"/>
<path d="M748.1,1020.4 A336,336 0 0 1 746.3,1020.7" stroke="#14602a" stroke-width="6.2" fill="none"/>
<path d="M674.9,1025.8 L678.0,1081.9" stroke="#1010c0" stroke-width="5.5" fill="none"/>
<path d="M748.1,1020.4 L759.4,1075.3" stroke="#14602a" stroke-width="5.5" fill="none"/>
<path d="M591.8,953.3 L572.7,1006.0" stroke="#1010c0" stroke-width="6.2" fill="none"/>
<path d="M572.7,1006.0 A336,336 0 0 1 567.6,1004.1" stroke="#1010c0" stroke-width="6.2" fill="none"/>
<path d="M567.6,1004.1 L550.6,1057.5" stroke="#1010c0" stroke-width="5.5" fill="none"/>
<path d="M567.6,1004.1 L540.2,1053.5" stroke="#1010c0" stroke-width="5.5" fill="none"/>
<path d="M458.5,851.8 L412.7,884.1" stroke="#a80c0c" stroke-width="6.2" fill="none"/>
<path d="M412.7,884.1 A336,336 0 0 1 411.9,883.0" stroke="#a80c0c" stroke-width="6.2" fill="none"/>
<path d="M411.9,883.0 L369.7,920.2" stroke="#a80c0c" stroke-width="5.5" fill="none"/>
<path d="M477.0,612.1 L424.5,592.7" stroke="#a80c0c" stroke-width="6.2" fill="none"/>
<path d="M422.7,597.5 A280,280 0 0 1 424.5,592.7" stroke="#a80c0c" stroke-width="6.2" fill="none"/>
<path d="M605.9,481.2 L585.6,429.0" stroke="#14602a" stroke-width="6.2" fill="none"/>
<path d="M585.6,429.0 A280,280 0 0 1 586.3,428.7" stroke="#14602a" stroke-width="6.2" fill="none"/>
<path d="M625.3,474.7 L609.9,420.8" stroke="#1010c0" stroke-width="6.2" fill="none"/>
<path d="M609.9,420.8 A280,280 0 0 1 611.0,420.5" stroke="#1010c0" stroke-width="6.2" fill="none"/>
<path d="M586.3,428.7 L566.2,376.5" stroke="#14602a" stroke-width="6.2" fill="none"/>
<path d="M565.0,376.9 A336,336 0 0 1 566.2,376.5" stroke="#14602a" stroke-width="6.2" fill="none"/>
<path d="M565.0,376.9 L545.4,324.5" stroke="#14602a" stroke-width="5.5" fill="none"/>
<path d="M611.0,362.7 L594.0,309.2" stroke="#1010c0" stroke-width="5.5" fill="none"/>
<path d="M761.2,362.3 L755.9,304.1" stroke="#1010c0" stroke-width="5.5" fill="none"/>
<path d="M855.3,399.2 L863.1,339.8" stroke="#a80c0c" stroke-width="5.5" fill="none"/>
<path d="M855.3,399.2 L875.3,346.2" stroke="#a80c0c" stroke-width="5.5" fill="none"/>
<path d="M855.3,399.2 L886.7,352.7" stroke="#a80c0c" stroke-width="5.5" fill="none"/>
<path d="M923.9,451.7 L965.6,414.2" stroke="#a80c0c" stroke-width="5.5" fill="none"/>
<path d="M923.9,451.7 L989.9,441.2" stroke="#a80c0c" stroke-width="5.5" fill="none"/>
<path d="M970.1,509.1 L1004.2,459.7" stroke="#1010c0" stroke-width="5.5" fill="none"/>
<path d="M521.0,715.7 A168,168 0 0 1 519.1,683.6" fill="none" stroke="#141414" stroke-width="4.0"/>
<path d="M630.1,693.0 L519.0,692.1" stroke="#202020" stroke-width="1.8"/>
<circle cx="1053.4" cy="550.7" r="6.2" fill="#c2c22a" stroke="#9a9a22" stroke-width="1.2" opacity="0.9"/>
<circle cx="1061.2" cy="573.3" r="6.2" fill="#c2c22a" stroke="#9a9a22" stroke-width="1.2" opacity="0.9"/>
<circle cx="1064.8" cy="585.6" r="6.2" fill="#c2c22a" stroke="#9a9a22" stroke-width="1.2" opacity="0.9"/>
<circle cx="1067.6" cy="596.3" r="6.2" fill="#c2c22a" stroke="#9a9a22" stroke-width="1.2" opacity="0.9"/>
<circle cx="1070.0" cy="606.7" r="6.2" fill="#c2c22a" stroke="#9a9a22" stroke-width="1.2" opacity="0.9"/>
<circle cx="1072.2" cy="617.2" r="6.2" fill="#c2c22a" stroke="#9a9a22" stroke-width="1.2" opacity="0.9"/>
<circle cx="1073.5" cy="624.3" r="6.2" fill="#c2c22a" stroke="#9a9a22" stroke-width="1.2" opacity="0.9"/>
<circle cx="1077.0" cy="650.9" r="6.2" fill="#c2c22a" stroke="#9a9a22" stroke-width="1.2" opacity="0.9"/>
<circle cx="1079.0" cy="689.3" r="6.2" fill="#c2c22a" stroke="#9a9a22" stroke-width="1.2" opacity="0.9"/>
<circle cx="1060.7" cy="808.4" r="6.2" fill="#c2c22a" stroke="#9a9a22" stroke-width="1.2" opacity="0.9"/>
<circle cx="1057.3" cy="818.7" r="6.2" fill="#c2c22a" stroke="#9a9a22" stroke-width="1.2" opacity="0.9"/>
<circle cx="1053.6" cy="828.8" r="6.2" fill="#c2c22a" stroke="#9a9a22" stroke-width="1.2" opacity="0.9"/>
<circle cx="1048.7" cy="841.1" r="6.2" fill="#c2c22a" stroke="#9a9a22" stroke-width="1.2" opacity="0.9"/>
<circle cx="1044.0" cy="851.9" r="6.2" fill="#c2c22a" stroke="#9a9a22" stroke-width="1.2" opacity="0.9"/>
<circle cx="1038.1" cy="864.3" r="6.2" fill="#c2c22a" stroke="#9a9a22" stroke-width="1.2" opacity="0.9"/>
<circle cx="1032.9" cy="874.4" r="6.2" fill="#c2c22a" stroke="#9a9a22" stroke-width="1.2" opacity="0.9"/>
<circle cx="966.3" cy="965.1" r="6.2" fill="#c2c22a" stroke="#9a9a22" stroke-width="1.2" opacity="0.9"/>
<circle cx="954.4" cy="976.6" r="6.2" fill="#c2c22a" stroke="#9a9a22" stroke-width="1.2" opacity="0.9"/>
<circle cx="923.8" cy="1002.4" r="6.2" fill="#c2c22a" stroke="#9a9a22" stroke-width="1.2" opacity="0.9"/>
<circle cx="877.8" cy="1032.4" r="6.2" fill="#c2c22a" stroke="#9a9a22" stroke-width="1.2" opacity="0.9"/>
<circle cx="857.5" cy="1043.0" r="6.2" fill="#c2c22a" stroke="#9a9a22" stroke-width="1.2" opacity="0.9"/>
<circle cx="840.5" cy="1050.7" r="6.2" fill="#c2c22a" stroke="#9a9a22" stroke-width="1.2" opacity="0.9"/>
<circle cx="805.5" cy="1063.7" r="6.2" fill="#c2c22a" stroke="#9a9a22" stroke-width="1.2" opacity="0.9"/>
<circle cx="782.8" cy="1070.1" r="6.2" fill="#c2c22a" stroke="#9a9a22" stroke-width="1.2" opacity="0.9"/>
<circle cx="762.9" cy="1074.6" r="6.2" fill="#c2c22a" stroke="#9a9a22" stroke-width="1.2" opacity="0.9"/>
<circle cx="604.6" cy="1073.2" r="6.2" fill="#c2c22a" stroke="#9a9a22" stroke-width="1.2" opacity="0.9"/>
<circle cx="618.7" cy="1076.0" r="6.2" fill="#c2c22a" stroke="#9a9a22" stroke-width="1.2" opacity="0.9"/>
<circle cx="633.1" cy="1078.3" r="6.2" fill="#c2c22a" stroke="#9a9a22" stroke-width="1.2" opacity="0.9"/>
<circle cx="647.5" cy="1080.0" r="6.2" fill="#c2c22a" stroke="#9a9a22" stroke-width="1.2" opacity="0.9"/>
<circle cx="698.4" cy="1081.8" r="6.2" fill="#c2c22a" stroke="#9a9a22" stroke-width="1.2" opacity="0.9"/>
<circle cx="710.5" cy="1081.3" r="6.2" fill="#c2c22a" stroke="#9a9a22" stroke-width="1.2" opacity="0.9"/>
<circle cx="722.7" cy="1080.4" r="6.2" fill="#c2c22a" stroke="#9a9a22" stroke-width="1.2" opacity="0.9"/>
<circle cx="773.9" cy="1072.2" r="6.2" fill="#c2c22a" stroke="#9a9a22" stroke-width="1.2" opacity="0.9"/>
<circle cx="472.3" cy="1018.0" r="6.2" fill="#c2c22a" stroke="#9a9a22" stroke-width="1.2" opacity="0.9"/>
<circle cx="483.1" cy="1024.8" r="6.2" fill="#c2c22a" stroke="#9a9a22" stroke-width="1.2" opacity="0.9"/>
<circle cx="492.3" cy="1030.2" r="6.2" fill="#c2c22a" stroke="#9a9a22" stroke-width="1.2" opacity="0.9"/>
<circle cx="505.0" cy="1037.2" r="6.2" fill="#c2c22a" stroke="#9a9a22" stroke-width="1.2" opacity="0.9"/>
<circle cx="572.1" cy="1064.8" r="6.2" fill="#c2c22a" stroke="#9a9a22" stroke-width="1.2" opacity="0.9"/>
<circle cx="444.7" cy="998.2" r="6.2" fill="#c2c22a" stroke="#9a9a22" stroke-width="1.2" opacity="0.9"/>
<circle cx="424.0" cy="980.7" r="6.2" fill="#c2c22a" stroke="#9a9a22" stroke-width="1.2" opacity="0.9"/>
<circle cx="295.8" cy="714.3" r="6.2" fill="#c2c22a" stroke="#9a9a22" stroke-width="1.2" opacity="0.9"/>
<circle cx="296.5" cy="724.6" r="6.2" fill="#c2c22a" stroke="#9a9a22" stroke-width="1.2" opacity="0.9"/>
<circle cx="297.6" cy="734.7" r="6.2" fill="#c2c22a" stroke="#9a9a22" stroke-width="1.2" opacity="0.9"/>
<circle cx="300.2" cy="753.3" r="6.2" fill="#c2c22a" stroke="#9a9a22" stroke-width="1.2" opacity="0.9"/>
<circle cx="301.9" cy="763.5" r="6.2" fill="#c2c22a" stroke="#9a9a22" stroke-width="1.2" opacity="0.9"/>
<circle cx="304.0" cy="773.5" r="6.2" fill="#c2c22a" stroke="#9a9a22" stroke-width="1.2" opacity="0.9"/>
<circle cx="308.4" cy="791.8" r="6.2" fill="#c2c22a" stroke="#9a9a22" stroke-width="1.2" opacity="0.9"/>
<circle cx="317.4" cy="820.7" r="6.2" fill="#c2c22a" stroke="#9a9a22" stroke-width="1.2" opacity="0.9"/>
<circle cx="329.0" cy="849.7" r="6.2" fill="#c2c22a" stroke="#9a9a22" stroke-width="1.2" opacity="0.9"/>
<circle cx="333.6" cy="859.7" r="6.2" fill="#c2c22a" stroke="#9a9a22" stroke-width="1.2" opacity="0.9"/>
<circle cx="338.5" cy="869.5" r="6.2" fill="#c2c22a" stroke="#9a9a22" stroke-width="1.2" opacity="0.9"/>
<circle cx="351.9" cy="893.4" r="6.2" fill="#c2c22a" stroke="#9a9a22" stroke-width="1.2" opacity="0.9"/>
<circle cx="384.0" cy="938.7" r="6.2" fill="#c2c22a" stroke="#9a9a22" stroke-width="1.2" opacity="0.9"/>
<circle cx="391.4" cy="947.4" r="6.2" fill="#c2c22a" stroke="#9a9a22" stroke-width="1.2" opacity="0.9"/>
<circle cx="399.1" cy="956.0" r="6.2" fill="#c2c22a" stroke="#9a9a22" stroke-width="1.2" opacity="0.9"/>
<circle cx="407.1" cy="964.4" r="6.2" fill="#c2c22a" stroke="#9a9a22" stroke-width="1.2" opacity="0.9"/>
<circle cx="370.6" cy="458.6" r="6.2" fill="#c2c22a" stroke="#9a9a22" stroke-width="1.2" opacity="0.9"/>
<circle cx="357.1" cy="478.3" r="6.2" fill="#c2c22a" stroke="#9a9a22" stroke-width="1.2" opacity="0.9"/>
<circle cx="339.1" cy="509.4" r="6.2" fill="#c2c22a" stroke="#9a9a22" stroke-width="1.2" opacity="0.9"/>
<circle cx="329.1" cy="530.1" r="6.2" fill="#c2c22a" stroke="#9a9a22" stroke-width="1.2" opacity="0.9"/>
<circle cx="321.4" cy="548.7" r="6.2" fill="#c2c22a" stroke="#9a9a22" stroke-width="1.2" opacity="0.9"/>
<circle cx="318.3" cy="556.9" r="6.2" fill="#c2c22a" stroke="#9a9a22" stroke-width="1.2" opacity="0.9"/>
<circle cx="310.3" cy="581.6" r="6.2" fill="#c2c22a" stroke="#9a9a22" stroke-width="1.2" opacity="0.9"/>
<circle cx="301.6" cy="618.3" r="6.2" fill="#c2c22a" stroke="#9a9a22" stroke-width="1.2" opacity="0.9"/>
<circle cx="297.8" cy="643.0" r="6.2" fill="#c2c22a" stroke="#9a9a22" stroke-width="1.2" opacity="0.9"/>
<circle cx="296.0" cy="661.4" r="6.2" fill="#c2c22a" stroke="#9a9a22" stroke-width="1.2" opacity="0.9"/>
<circle cx="295.0" cy="688.0" r="6.2" fill="#c2c22a" stroke="#9a9a22" stroke-width="1.2" opacity="0.9"/>
<circle cx="525.1" cy="333.0" r="6.2" fill="#c2c22a" stroke="#9a9a22" stroke-width="1.2" opacity="0.9"/>
<circle cx="496.4" cy="347.5" r="6.2" fill="#c2c22a" stroke="#9a9a22" stroke-width="1.2" opacity="0.9"/>
<circle cx="472.0" cy="362.2" r="6.2" fill="#c2c22a" stroke="#9a9a22" stroke-width="1.2" opacity="0.9"/>
<circle cx="450.5" cy="377.3" r="6.2" fill="#c2c22a" stroke="#9a9a22" stroke-width="1.2" opacity="0.9"/>
<circle cx="431.1" cy="393.1" r="6.2" fill="#c2c22a" stroke="#9a9a22" stroke-width="1.2" opacity="0.9"/>
<circle cx="411.9" cy="410.7" r="6.2" fill="#c2c22a" stroke="#9a9a22" stroke-width="1.2" opacity="0.9"/>
<circle cx="398.3" cy="424.9" r="6.2" fill="#c2c22a" stroke="#9a9a22" stroke-width="1.2" opacity="0.9"/>
<circle cx="626.0" cy="302.8" r="6.2" fill="#c2c22a" stroke="#9a9a22" stroke-width="1.2" opacity="0.9"/>
<circle cx="640.1" cy="300.8" r="6.2" fill="#c2c22a" stroke="#9a9a22" stroke-width="1.2" opacity="0.9"/>
<circle cx="654.3" cy="299.4" r="6.2" fill="#c2c22a" stroke="#9a9a22" stroke-width="1.2" opacity="0.9"/>
<circle cx="666.6" cy="298.5" r="6.2" fill="#c2c22a" stroke="#9a9a22" stroke-width="1.2" opacity="0.9"/>
<circle cx="787.6" cy="311.1" r="6.2" fill="#c2c22a" stroke="#9a9a22" stroke-width="1.2" opacity="0.9"/>
<circle cx="827.9" cy="324.2" r="6.2" fill="#c2c22a" stroke="#9a9a22" stroke-width="1.2" opacity="0.9"/>
<circle cx="727.2" cy="300.1" r="6.2" fill="#c2c22a" stroke="#9a9a22" stroke-width="1.2" opacity="0.9"/>
<circle cx="694.3" cy="298.1" r="6.2" fill="#c2c22a" stroke="#9a9a22" stroke-width="1.2" opacity="0.9"/>
<circle cx="902.7" cy="362.7" r="6.2" fill="#c2c22a" stroke="#9a9a22" stroke-width="1.2" opacity="0.9"/>
<circle cx="909.8" cy="367.4" r="6.2" fill="#c2c22a" stroke="#9a9a22" stroke-width="1.2" opacity="0.9"/>
<circle cx="930.6" cy="382.9" r="6.2" fill="#c2c22a" stroke="#9a9a22" stroke-width="1.2" opacity="0.9"/>
<circle cx="939.9" cy="390.5" r="6.2" fill="#c2c22a" stroke="#9a9a22" stroke-width="1.2" opacity="0.9"/>
<circle cx="951.9" cy="401.1" r="6.2" fill="#c2c22a" stroke="#9a9a22" stroke-width="1.2" opacity="0.9"/>
<circle cx="978.5" cy="428.0" r="6.2" fill="#c2c22a" stroke="#9a9a22" stroke-width="1.2" opacity="0.9"/>
<circle cx="1013.6" cy="473.2" r="6.2" fill="#c2c22a" stroke="#9a9a22" stroke-width="1.2" opacity="0.9"/>
<circle cx="1023.0" cy="488.2" r="6.2" fill="#c2c22a" stroke="#9a9a22" stroke-width="1.2" opacity="0.9"/>
<circle cx="1030.4" cy="501.0" r="6.2" fill="#c2c22a" stroke="#9a9a22" stroke-width="1.2" opacity="0.9"/>
<circle cx="1035.2" cy="509.9" r="6.2" fill="#c2c22a" stroke="#9a9a22" stroke-width="1.2" opacity="0.9"/>
<circle cx="1043.8" cy="527.6" r="6.2" fill="#c2c22a" stroke="#9a9a22" stroke-width="1.2" opacity="0.9"/>
<circle cx="1077.8" cy="720.8" r="6.2" fill="#c2c22a" stroke="#9a9a22" stroke-width="1.2" opacity="0.9"/>
<circle cx="946.7" cy="983.6" r="6.2" fill="#c2c22a" stroke="#9a9a22" stroke-width="1.2" opacity="0.9"/>
<circle cx="934.8" cy="993.8" r="6.2" fill="#c2c22a" stroke="#9a9a22" stroke-width="1.2" opacity="0.9"/>
<circle cx="801.0" cy="1065.1" r="6.2" fill="#c2c22a" stroke="#9a9a22" stroke-width="1.2" opacity="0.9"/>
<circle cx="335.3" cy="516.9" r="6.2" fill="#c2c22a" stroke="#9a9a22" stroke-width="1.2" opacity="0.9"/>
<circle cx="347.2" cy="494.6" r="6.2" fill="#c2c22a" stroke="#9a9a22" stroke-width="1.2" opacity="0.9"/>
<circle cx="363.2" cy="469.1" r="6.2" fill="#c2c22a" stroke="#9a9a22" stroke-width="1.2" opacity="0.9"/>
<circle cx="380.6" cy="445.4" r="6.2" fill="#c2c22a" stroke="#9a9a22" stroke-width="1.2" opacity="0.9"/>
<circle cx="388.5" cy="435.9" r="6.2" fill="#c2c22a" stroke="#9a9a22" stroke-width="1.2" opacity="0.9"/>
<circle cx="298.3" cy="740.5" r="6.2" fill="#c2c22a" stroke="#9a9a22" stroke-width="1.2" opacity="0.9"/>
<circle cx="296.2" cy="720.1" r="6.2" fill="#c2c22a" stroke="#9a9a22" stroke-width="1.2" opacity="0.9"/>
<circle cx="295.5" cy="709.1" r="6.2" fill="#c2c22a" stroke="#9a9a22" stroke-width="1.2" opacity="0.9"/>
<circle cx="305.2" cy="778.8" r="6.2" fill="#c2c22a" stroke="#9a9a22" stroke-width="1.2" opacity="0.9"/>
<circle cx="302.9" cy="768.2" r="6.2" fill="#c2c22a" stroke="#9a9a22" stroke-width="1.2" opacity="0.9"/>
<circle cx="301.0" cy="758.1" r="6.2" fill="#c2c22a" stroke="#9a9a22" stroke-width="1.2" opacity="0.9"/>
<circle cx="340.9" cy="874.0" r="6.2" fill="#c2c22a" stroke="#9a9a22" stroke-width="1.2" opacity="0.9"/>
<circle cx="336.2" cy="864.9" r="6.2" fill="#c2c22a" stroke="#9a9a22" stroke-width="1.2" opacity="0.9"/>
<circle cx="331.2" cy="854.4" r="6.2" fill="#c2c22a" stroke="#9a9a22" stroke-width="1.2" opacity="0.9"/>
<circle cx="326.2" cy="843.2" r="6.2" fill="#c2c22a" stroke="#9a9a22" stroke-width="1.2" opacity="0.9"/>
<circle cx="403.1" cy="960.3" r="6.2" fill="#c2c22a" stroke="#9a9a22" stroke-width="1.2" opacity="0.9"/>
<circle cx="395.2" cy="951.8" r="6.2" fill="#c2c22a" stroke="#9a9a22" stroke-width="1.2" opacity="0.9"/>
<circle cx="388.0" cy="943.5" r="6.2" fill="#c2c22a" stroke="#9a9a22" stroke-width="1.2" opacity="0.9"/>
<circle cx="498.8" cy="1033.8" r="6.2" fill="#c2c22a" stroke="#9a9a22" stroke-width="1.2" opacity="0.9"/>
<circle cx="488.0" cy="1027.8" r="6.2" fill="#c2c22a" stroke="#9a9a22" stroke-width="1.2" opacity="0.9"/>
<circle cx="477.5" cy="1021.3" r="6.2" fill="#c2c22a" stroke="#9a9a22" stroke-width="1.2" opacity="0.9"/>
<circle cx="640.6" cy="1079.2" r="6.2" fill="#c2c22a" stroke="#9a9a22" stroke-width="1.2" opacity="0.9"/>
<circle cx="626.4" cy="1077.3" r="6.2" fill="#c2c22a" stroke="#9a9a22" stroke-width="1.2" opacity="0.9"/>
<circle cx="611.5" cy="1074.7" r="6.2" fill="#c2c22a" stroke="#9a9a22" stroke-width="1.2" opacity="0.9"/>
<circle cx="716.4" cy="1080.9" r="6.2" fill="#c2c22a" stroke="#9a9a22" stroke-width="1.2" opacity="0.9"/>
<circle cx="704.8" cy="1081.6" r="6.2" fill="#c2c22a" stroke="#9a9a22" stroke-width="1.2" opacity="0.9"/>
<circle cx="1063.1" cy="579.3" r="6.2" fill="#c2c22a" stroke="#9a9a22" stroke-width="1.2" opacity="0.9"/>
<circle cx="1066.3" cy="591.2" r="6.2" fill="#c2c22a" stroke="#9a9a22" stroke-width="1.2" opacity="0.9"/>
<circle cx="1069.0" cy="601.8" r="6.2" fill="#c2c22a" stroke="#9a9a22" stroke-width="1.2" opacity="0.9"/>
<circle cx="1071.1" cy="611.8" r="6.2" fill="#c2c22a" stroke="#9a9a22" stroke-width="1.2" opacity="0.9"/>
<circle cx="1072.9" cy="621.3" r="6.2" fill="#c2c22a" stroke="#9a9a22" stroke-width="1.2" opacity="0.9"/>
<circle cx="866.2" cy="1038.7" r="6.2" fill="#c2c22a" stroke="#9a9a22" stroke-width="1.2" opacity="0.9"/>
<circle cx="848.9" cy="1047.0" r="6.2" fill="#c2c22a" stroke="#9a9a22" stroke-width="1.2" opacity="0.9"/>
<circle cx="793.7" cy="1067.2" r="6.2" fill="#c2c22a" stroke="#9a9a22" stroke-width="1.2" opacity="0.9"/>
<circle cx="779.8" cy="1070.8" r="6.2" fill="#c2c22a" stroke="#9a9a22" stroke-width="1.2" opacity="0.9"/>
<circle cx="961.8" cy="969.6" r="6.2" fill="#c2c22a" stroke="#9a9a22" stroke-width="1.2" opacity="0.9"/>
<circle cx="940.5" cy="989.0" r="6.2" fill="#c2c22a" stroke="#9a9a22" stroke-width="1.2" opacity="0.9"/>
<circle cx="928.3" cy="998.9" r="6.2" fill="#c2c22a" stroke="#9a9a22" stroke-width="1.2" opacity="0.9"/>
<circle cx="935.3" cy="386.7" r="6.2" fill="#c2c22a" stroke="#9a9a22" stroke-width="1.2" opacity="0.9"/>
<circle cx="946.2" cy="396.0" r="6.2" fill="#c2c22a" stroke="#9a9a22" stroke-width="1.2" opacity="0.9"/>
<circle cx="957.3" cy="406.1" r="6.2" fill="#c2c22a" stroke="#9a9a22" stroke-width="1.2" opacity="0.9"/>
<circle cx="971.8" cy="420.7" r="6.2" fill="#c2c22a" stroke="#9a9a22" stroke-width="1.2" opacity="0.9"/>
<circle cx="984.2" cy="434.4" r="6.2" fill="#c2c22a" stroke="#9a9a22" stroke-width="1.2" opacity="0.9"/>
<circle cx="1018.3" cy="480.5" r="6.2" fill="#c2c22a" stroke="#9a9a22" stroke-width="1.2" opacity="0.9"/>
<circle cx="1026.8" cy="494.6" r="6.2" fill="#c2c22a" stroke="#9a9a22" stroke-width="1.2" opacity="0.9"/>
<circle cx="633.1" cy="301.7" r="6.2" fill="#c2c22a" stroke="#9a9a22" stroke-width="1.2" opacity="0.9"/>
<circle cx="646.7" cy="300.1" r="6.2" fill="#c2c22a" stroke="#9a9a22" stroke-width="1.2" opacity="0.9"/>
<circle cx="660.3" cy="298.9" r="6.2" fill="#c2c22a" stroke="#9a9a22" stroke-width="1.2" opacity="0.9"/>
<circle cx="687.7" cy="298.0" r="6.2" fill="#c2c22a" stroke="#9a9a22" stroke-width="1.2" opacity="0.9"/>
<circle cx="701.4" cy="298.3" r="6.2" fill="#c2c22a" stroke="#9a9a22" stroke-width="1.2" opacity="0.9"/>
<circle cx="992.6" cy="550.4" r="7.0" fill="#c2c22a" stroke="#9a9a22" stroke-width="1.2" opacity="0.9"/>
<circle cx="1000.3" cy="568.5" r="7.0" fill="#c2c22a" stroke="#9a9a22" stroke-width="1.2" opacity="0.9"/>
<circle cx="1007.1" cy="587.8" r="7.0" fill="#c2c22a" stroke="#9a9a22" stroke-width="1.2" opacity="0.9"/>
<circle cx="1010.2" cy="598.2" r="7.0" fill="#c2c22a" stroke="#9a9a22" stroke-width="1.2" opacity="0.9"/>
<circle cx="1013.4" cy="610.3" r="7.0" fill="#c2c22a" stroke="#9a9a22" stroke-width="1.2" opacity="0.9"/>
<circle cx="1015.8" cy="620.7" r="7.0" fill="#c2c22a" stroke="#9a9a22" stroke-width="1.2" opacity="0.9"/>
<circle cx="1017.5" cy="629.5" r="7.0" fill="#c2c22a" stroke="#9a9a22" stroke-width="1.2" opacity="0.9"/>
<circle cx="1021.3" cy="656.0" r="7.0" fill="#c2c22a" stroke="#9a9a22" stroke-width="1.2" opacity="0.9"/>
<circle cx="1023.0" cy="689.4" r="7.0" fill="#c2c22a" stroke="#9a9a22" stroke-width="1.2" opacity="0.9"/>
<circle cx="1022.1" cy="713.9" r="7.0" fill="#c2c22a" stroke="#9a9a22" stroke-width="1.2" opacity="0.9"/>
<circle cx="1005.9" cy="795.7" r="7.0" fill="#c2c22a" stroke="#9a9a22" stroke-width="1.2" opacity="0.9"/>
<circle cx="998.8" cy="815.3" r="7.0" fill="#c2c22a" stroke="#9a9a22" stroke-width="1.2" opacity="0.9"/>
<circle cx="985.0" cy="845.2" r="7.0" fill="#c2c22a" stroke="#9a9a22" stroke-width="1.2" opacity="0.9"/>
<circle cx="886.1" cy="960.7" r="7.0" fill="#c2c22a" stroke="#9a9a22" stroke-width="1.2" opacity="0.9"/>
<circle cx="902.1" cy="948.1" r="7.0" fill="#c2c22a" stroke="#9a9a22" stroke-width="1.2" opacity="0.9"/>
<circle cx="916.1" cy="935.8" r="7.0" fill="#c2c22a" stroke="#9a9a22" stroke-width="1.2" opacity="0.9"/>
<circle cx="927.5" cy="924.6" r="7.0" fill="#c2c22a" stroke="#9a9a22" stroke-width="1.2" opacity="0.9"/>
<circle cx="846.4" cy="985.8" r="7.0" fill="#c2c22a" stroke="#9a9a22" stroke-width="1.2" opacity="0.9"/>
<circle cx="832.5" cy="992.9" r="7.0" fill="#c2c22a" stroke="#9a9a22" stroke-width="1.2" opacity="0.9"/>
<circle cx="818.2" cy="999.3" r="7.0" fill="#c2c22a" stroke="#9a9a22" stroke-width="1.2" opacity="0.9"/>
<circle cx="771.4" cy="1015.2" r="7.0" fill="#c2c22a" stroke="#9a9a22" stroke-width="1.2" opacity="0.9"/>
<circle cx="789.8" cy="1009.9" r="7.0" fill="#c2c22a" stroke="#9a9a22" stroke-width="1.2" opacity="0.9"/>
<circle cx="604.2" cy="1015.6" r="7.0" fill="#c2c22a" stroke="#9a9a22" stroke-width="1.2" opacity="0.9"/>
<circle cx="616.8" cy="1018.6" r="7.0" fill="#c2c22a" stroke="#9a9a22" stroke-width="1.2" opacity="0.9"/>
<circle cx="628.9" cy="1020.9" r="7.0" fill="#c2c22a" stroke="#9a9a22" stroke-width="1.2" opacity="0.9"/>
<circle cx="647.4" cy="1023.7" r="7.0" fill="#c2c22a" stroke="#9a9a22" stroke-width="1.2" opacity="0.9"/>
<circle cx="705.5" cy="1025.5" r="7.0" fill="#c2c22a" stroke="#9a9a22" stroke-width="1.2" opacity="0.9"/>
<circle cx="726.8" cy="1023.6" r="7.0" fill="#c2c22a" stroke="#9a9a22" stroke-width="1.2" opacity="0.9"/>
<circle cx="763.3" cy="1017.2" r="7.0" fill="#c2c22a" stroke="#9a9a22" stroke-width="1.2" opacity="0.9"/>
<circle cx="853.3" cy="981.9" r="7.0" fill="#c2c22a" stroke="#9a9a22" stroke-width="1.2" opacity="0.9"/>
<circle cx="509.2" cy="975.1" r="7.0" fill="#c2c22a" stroke="#9a9a22" stroke-width="1.2" opacity="0.9"/>
<circle cx="531.5" cy="987.9" r="7.0" fill="#c2c22a" stroke="#9a9a22" stroke-width="1.2" opacity="0.9"/>
<circle cx="550.4" cy="997.0" r="7.0" fill="#c2c22a" stroke="#9a9a22" stroke-width="1.2" opacity="0.9"/>
<circle cx="591.6" cy="1012.2" r="7.0" fill="#c2c22a" stroke="#9a9a22" stroke-width="1.2" opacity="0.9"/>
<circle cx="472.0" cy="948.2" r="7.0" fill="#c2c22a" stroke="#9a9a22" stroke-width="1.2" opacity="0.9"/>
<circle cx="436.0" cy="913.4" r="7.0" fill="#c2c22a" stroke="#9a9a22" stroke-width="1.2" opacity="0.9"/>
<circle cx="461.1" cy="938.7" r="7.0" fill="#c2c22a" stroke="#9a9a22" stroke-width="1.2" opacity="0.9"/>
<circle cx="479.1" cy="954.0" r="7.0" fill="#c2c22a" stroke="#9a9a22" stroke-width="1.2" opacity="0.9"/>
<circle cx="352.3" cy="719.4" r="7.0" fill="#c2c22a" stroke="#9a9a22" stroke-width="1.2" opacity="0.9"/>
<circle cx="356.4" cy="750.1" r="7.0" fill="#c2c22a" stroke="#9a9a22" stroke-width="1.2" opacity="0.9"/>
<circle cx="362.6" cy="777.7" r="7.0" fill="#c2c22a" stroke="#9a9a22" stroke-width="1.2" opacity="0.9"/>
<circle cx="369.8" cy="800.9" r="7.0" fill="#c2c22a" stroke="#9a9a22" stroke-width="1.2" opacity="0.9"/>
<circle cx="380.6" cy="828.0" r="7.0" fill="#c2c22a" stroke="#9a9a22" stroke-width="1.2" opacity="0.9"/>
<circle cx="387.8" cy="842.9" r="7.0" fill="#c2c22a" stroke="#9a9a22" stroke-width="1.2" opacity="0.9"/>
<circle cx="400.7" cy="865.9" r="7.0" fill="#c2c22a" stroke="#9a9a22" stroke-width="1.2" opacity="0.9"/>
<circle cx="388.3" cy="536.1" r="7.0" fill="#c2c22a" stroke="#9a9a22" stroke-width="1.2" opacity="0.9"/>
<circle cx="380.9" cy="551.4" r="7.0" fill="#c2c22a" stroke="#9a9a22" stroke-width="1.2" opacity="0.9"/>
<circle cx="372.7" cy="571.2" r="7.0" fill="#c2c22a" stroke="#9a9a22" stroke-width="1.2" opacity="0.9"/>
<circle cx="368.3" cy="583.4" r="7.0" fill="#c2c22a" stroke="#9a9a22" stroke-width="1.2" opacity="0.9"/>
<circle cx="363.9" cy="597.7" r="7.0" fill="#c2c22a" stroke="#9a9a22" stroke-width="1.2" opacity="0.9"/>
<circle cx="360.1" cy="612.2" r="7.0" fill="#c2c22a" stroke="#9a9a22" stroke-width="1.2" opacity="0.9"/>
<circle cx="356.7" cy="628.5" r="7.0" fill="#c2c22a" stroke="#9a9a22" stroke-width="1.2" opacity="0.9"/>
<circle cx="354.0" cy="645.0" r="7.0" fill="#c2c22a" stroke="#9a9a22" stroke-width="1.2" opacity="0.9"/>
<circle cx="352.2" cy="661.4" r="7.0" fill="#c2c22a" stroke="#9a9a22" stroke-width="1.2" opacity="0.9"/>
<circle cx="453.1" cy="448.8" r="7.0" fill="#c2c22a" stroke="#9a9a22" stroke-width="1.2" opacity="0.9"/>
<circle cx="435.1" cy="467.6" r="7.0" fill="#c2c22a" stroke="#9a9a22" stroke-width="1.2" opacity="0.9"/>
<circle cx="416.6" cy="490.5" r="7.0" fill="#c2c22a" stroke="#9a9a22" stroke-width="1.2" opacity="0.9"/>
<circle cx="402.5" cy="511.3" r="7.0" fill="#c2c22a" stroke="#9a9a22" stroke-width="1.2" opacity="0.9"/>
<circle cx="396.3" cy="521.5" r="7.0" fill="#c2c22a" stroke="#9a9a22" stroke-width="1.2" opacity="0.9"/>
<circle cx="351.0" cy="688.0" r="7.0" fill="#c2c22a" stroke="#9a9a22" stroke-width="1.2" opacity="0.9"/>
<circle cx="589.9" cy="368.3" r="7.0" fill="#c2c22a" stroke="#9a9a22" stroke-width="1.2" opacity="0.9"/>
<circle cx="582.7" cy="370.6" r="7.0" fill="#c2c22a" stroke="#9a9a22" stroke-width="1.2" opacity="0.9"/>
<circle cx="548.5" cy="383.9" r="7.0" fill="#c2c22a" stroke="#9a9a22" stroke-width="1.2" opacity="0.9"/>
<circle cx="635.7" cy="357.9" r="7.0" fill="#c2c22a" stroke="#9a9a22" stroke-width="1.2" opacity="0.9"/>
<circle cx="662.5" cy="354.9" r="7.0" fill="#c2c22a" stroke="#9a9a22" stroke-width="1.2" opacity="0.9"/>
<circle cx="523.4" cy="396.5" r="7.0" fill="#c2c22a" stroke="#9a9a22" stroke-width="1.2" opacity="0.9"/>
<circle cx="502.8" cy="409.0" r="7.0" fill="#c2c22a" stroke="#9a9a22" stroke-width="1.2" opacity="0.9"/>
<circle cx="485.1" cy="421.4" r="7.0" fill="#c2c22a" stroke="#9a9a22" stroke-width="1.2" opacity="0.9"/>
<circle cx="466.9" cy="436.1" r="7.0" fill="#c2c22a" stroke="#9a9a22" stroke-width="1.2" opacity="0.9"/>
<circle cx="427.8" cy="476.1" r="7.0" fill="#c2c22a" stroke="#9a9a22" stroke-width="1.2" opacity="0.9"/>
<circle cx="794.3" cy="371.6" r="7.0" fill="#c2c22a" stroke="#9a9a22" stroke-width="1.2" opacity="0.9"/>
<circle cx="809.7" cy="377.2" r="7.0" fill="#c2c22a" stroke="#9a9a22" stroke-width="1.2" opacity="0.9"/>
<circle cx="721.2" cy="355.7" r="7.0" fill="#c2c22a" stroke="#9a9a22" stroke-width="1.2" opacity="0.9"/>
<circle cx="694.4" cy="354.1" r="7.0" fill="#c2c22a" stroke="#9a9a22" stroke-width="1.2" opacity="0.9"/>
<circle cx="889.8" cy="422.1" r="7.0" fill="#c2c22a" stroke="#9a9a22" stroke-width="1.2" opacity="0.9"/>
<circle cx="640.8" cy="1022.8" r="7.0" fill="#c2c22a" stroke="#9a9a22" stroke-width="1.2" opacity="0.9"/>
<circle cx="634.4" cy="1021.9" r="7.0" fill="#c2c22a" stroke="#9a9a22" stroke-width="1.2" opacity="0.9"/>
<circle cx="622.9" cy="1019.8" r="7.0" fill="#c2c22a" stroke="#9a9a22" stroke-width="1.2" opacity="0.9"/>
<circle cx="610.3" cy="1017.1" r="7.0" fill="#c2c22a" stroke="#9a9a22" stroke-width="1.2" opacity="0.9"/>
<circle cx="597.8" cy="1013.9" r="7.0" fill="#c2c22a" stroke="#9a9a22" stroke-width="1.2" opacity="0.9"/>
<circle cx="1008.7" cy="592.9" r="7.0" fill="#c2c22a" stroke="#9a9a22" stroke-width="1.2" opacity="0.9"/>
<circle cx="1011.9" cy="604.2" r="7.0" fill="#c2c22a" stroke="#9a9a22" stroke-width="1.2" opacity="0.9"/>
<circle cx="1014.7" cy="615.6" r="7.0" fill="#c2c22a" stroke="#9a9a22" stroke-width="1.2" opacity="0.9"/>
<circle cx="1016.8" cy="625.9" r="7.0" fill="#c2c22a" stroke="#9a9a22" stroke-width="1.2" opacity="0.9"/>
<circle cx="840.1" cy="989.1" r="7.0" fill="#c2c22a" stroke="#9a9a22" stroke-width="1.2" opacity="0.9"/>
<circle cx="826.3" cy="995.7" r="7.0" fill="#c2c22a" stroke="#9a9a22" stroke-width="1.2" opacity="0.9"/>
<circle cx="780.2" cy="1012.8" r="7.0" fill="#c2c22a" stroke="#9a9a22" stroke-width="1.2" opacity="0.9"/>
<circle cx="921.7" cy="930.5" r="7.0" fill="#c2c22a" stroke="#9a9a22" stroke-width="1.2" opacity="0.9"/>
<circle cx="909.2" cy="942.0" r="7.0" fill="#c2c22a" stroke="#9a9a22" stroke-width="1.2" opacity="0.9"/>
<circle cx="894.3" cy="954.4" r="7.0" fill="#c2c22a" stroke="#9a9a22" stroke-width="1.2" opacity="0.9"/>
<circle cx="943.0" cy="576.6" r="7.1" fill="#c2c22a" stroke="#9a9a22" stroke-width="1.2" opacity="0.9"/>
<circle cx="948.4" cy="589.6" r="7.1" fill="#c2c22a" stroke="#9a9a22" stroke-width="1.2" opacity="0.9"/>
<circle cx="958.8" cy="622.6" r="7.1" fill="#c2c22a" stroke="#9a9a22" stroke-width="1.2" opacity="0.9"/>
<circle cx="965.6" cy="662.1" r="7.1" fill="#c2c22a" stroke="#9a9a22" stroke-width="1.2" opacity="0.9"/>
<circle cx="949.7" cy="786.9" r="7.1" fill="#c2c22a" stroke="#9a9a22" stroke-width="1.2" opacity="0.9"/>
<circle cx="936.3" cy="817.4" r="7.1" fill="#c2c22a" stroke="#9a9a22" stroke-width="1.2" opacity="0.9"/>
<circle cx="885.3" cy="887.6" r="7.1" fill="#c2c22a" stroke="#9a9a22" stroke-width="1.2" opacity="0.9"/>
<circle cx="874.0" cy="898.4" r="7.1" fill="#c2c22a" stroke="#9a9a22" stroke-width="1.2" opacity="0.9"/>
<circle cx="860.3" cy="909.9" r="7.1" fill="#c2c22a" stroke="#9a9a22" stroke-width="1.2" opacity="0.9"/>
<circle cx="852.2" cy="916.1" r="7.1" fill="#c2c22a" stroke="#9a9a22" stroke-width="1.2" opacity="0.9"/>
<circle cx="822.1" cy="935.3" r="7.1" fill="#c2c22a" stroke="#9a9a22" stroke-width="1.2" opacity="0.9"/>
<circle cx="806.5" cy="943.2" r="7.1" fill="#c2c22a" stroke="#9a9a22" stroke-width="1.2" opacity="0.9"/>
<circle cx="791.0" cy="950.0" r="7.1" fill="#c2c22a" stroke="#9a9a22" stroke-width="1.2" opacity="0.9"/>
<circle cx="639.1" cy="965.9" r="7.1" fill="#c2c22a" stroke="#9a9a22" stroke-width="1.2" opacity="0.9"/>
<circle cx="708.4" cy="969.2" r="7.1" fill="#c2c22a" stroke="#9a9a22" stroke-width="1.2" opacity="0.9"/>
<circle cx="759.8" cy="960.4" r="7.1" fill="#c2c22a" stroke="#9a9a22" stroke-width="1.2" opacity="0.9"/>
<circle cx="540.9" cy="928.8" r="7.1" fill="#c2c22a" stroke="#9a9a22" stroke-width="1.2" opacity="0.9"/>
<circle cx="558.5" cy="938.8" r="7.1" fill="#c2c22a" stroke="#9a9a22" stroke-width="1.2" opacity="0.9"/>
<circle cx="508.3" cy="905.6" r="7.1" fill="#c2c22a" stroke="#9a9a22" stroke-width="1.2" opacity="0.9"/>
<circle cx="432.3" cy="806.3" r="7.1" fill="#c2c22a" stroke="#9a9a22" stroke-width="1.2" opacity="0.9"/>
<circle cx="443.6" cy="828.4" r="7.1" fill="#c2c22a" stroke="#9a9a22" stroke-width="1.2" opacity="0.9"/>
<circle cx="408.2" cy="715.4" r="7.1" fill="#c2c22a" stroke="#9a9a22" stroke-width="1.2" opacity="0.9"/>
<circle cx="412.0" cy="742.9" r="7.1" fill="#c2c22a" stroke="#9a9a22" stroke-width="1.2" opacity="0.9"/>
<circle cx="416.5" cy="762.2" r="7.1" fill="#c2c22a" stroke="#9a9a22" stroke-width="1.2" opacity="0.9"/>
<circle cx="423.1" cy="783.5" r="7.1" fill="#c2c22a" stroke="#9a9a22" stroke-width="1.2" opacity="0.9"/>
<circle cx="439.6" cy="821.1" r="7.1" fill="#c2c22a" stroke="#9a9a22" stroke-width="1.2" opacity="0.9"/>
<circle cx="446.7" cy="833.7" r="7.1" fill="#c2c22a" stroke="#9a9a22" stroke-width="1.2" opacity="0.9"/>
<circle cx="415.2" cy="622.8" r="7.1" fill="#c2c22a" stroke="#9a9a22" stroke-width="1.2" opacity="0.9"/>
<circle cx="412.5" cy="634.9" r="7.1" fill="#c2c22a" stroke="#9a9a22" stroke-width="1.2" opacity="0.9"/>
<circle cx="410.3" cy="647.2" r="7.1" fill="#c2c22a" stroke="#9a9a22" stroke-width="1.2" opacity="0.9"/>
<circle cx="408.7" cy="659.5" r="7.1" fill="#c2c22a" stroke="#9a9a22" stroke-width="1.2" opacity="0.9"/>
<circle cx="407.7" cy="669.7" r="7.1" fill="#c2c22a" stroke="#9a9a22" stroke-width="1.2" opacity="0.9"/>
<circle cx="481.5" cy="499.8" r="7.1" fill="#c2c22a" stroke="#9a9a22" stroke-width="1.2" opacity="0.9"/>
<circle cx="489.6" cy="491.5" r="7.1" fill="#c2c22a" stroke="#9a9a22" stroke-width="1.2" opacity="0.9"/>
<circle cx="503.4" cy="478.6" r="7.1" fill="#c2c22a" stroke="#9a9a22" stroke-width="1.2" opacity="0.9"/>
<circle cx="516.8" cy="467.7" r="7.1" fill="#c2c22a" stroke="#9a9a22" stroke-width="1.2" opacity="0.9"/>
<circle cx="533.9" cy="455.6" r="7.1" fill="#c2c22a" stroke="#9a9a22" stroke-width="1.2" opacity="0.9"/>
<circle cx="407.0" cy="688.0" r="7.1" fill="#c2c22a" stroke="#9a9a22" stroke-width="1.2" opacity="0.9"/>
<circle cx="570.9" cy="435.2" r="7.1" fill="#c2c22a" stroke="#9a9a22" stroke-width="1.2" opacity="0.9"/>
<circle cx="644.2" cy="413.3" r="7.1" fill="#c2c22a" stroke="#9a9a22" stroke-width="1.2" opacity="0.9"/>
<circle cx="550.5" cy="445.5" r="7.1" fill="#c2c22a" stroke="#9a9a22" stroke-width="1.2" opacity="0.9"/>
<circle cx="788.8" cy="429.2" r="7.1" fill="#c2c22a" stroke="#9a9a22" stroke-width="1.2" opacity="0.9"/>
<circle cx="715.0" cy="411.4" r="7.1" fill="#c2c22a" stroke="#9a9a22" stroke-width="1.2" opacity="0.9"/>
<circle cx="667.5" cy="410.7" r="7.1" fill="#c2c22a" stroke="#9a9a22" stroke-width="1.2" opacity="0.9"/>
<circle cx="692.3" cy="410.1" r="7.1" fill="#c2c22a" stroke="#9a9a22" stroke-width="1.2" opacity="0.9"/>
<circle cx="940.5" cy="571.0" r="7.1" fill="#c2c22a" stroke="#9a9a22" stroke-width="1.2" opacity="0.9"/>
<circle cx="814.6" cy="939.3" r="7.1" fill="#c2c22a" stroke="#9a9a22" stroke-width="1.2" opacity="0.9"/>
<circle cx="803.1" cy="944.8" r="7.1" fill="#c2c22a" stroke="#9a9a22" stroke-width="1.2" opacity="0.9"/>
<circle cx="881.2" cy="891.8" r="7.1" fill="#c2c22a" stroke="#9a9a22" stroke-width="1.2" opacity="0.9"/>
<circle cx="870.0" cy="902.0" r="7.1" fill="#c2c22a" stroke="#9a9a22" stroke-width="1.2" opacity="0.9"/>
<circle cx="863.2" cy="907.6" r="7.1" fill="#c2c22a" stroke="#9a9a22" stroke-width="1.2" opacity="0.9"/>
<circle cx="845.5" cy="848.3" r="7.2" fill="#c2c22a" stroke="#9a9a22" stroke-width="1.2" opacity="0.9"/>
<circle cx="543.9" cy="862.3" r="7.2" fill="#c2c22a" stroke="#9a9a22" stroke-width="1.2" opacity="0.9"/>
<circle cx="528.0" cy="532.2" r="7.2" fill="#c2c22a" stroke="#9a9a22" stroke-width="1.2" opacity="0.9"/>
<circle cx="896.2" cy="609.8" r="7.2" fill="#c2c22a" stroke="#9a9a22" stroke-width="1.2" opacity="0.9"/>
<circle cx="904.1" cy="635.0" r="7.2" fill="#c2c22a" stroke="#9a9a22" stroke-width="1.2" opacity="0.9"/>
<circle cx="909.8" cy="666.5" r="7.2" fill="#c2c22a" stroke="#9a9a22" stroke-width="1.2" opacity="0.9"/>
<circle cx="894.7" cy="773.9" r="7.2" fill="#c2c22a" stroke="#9a9a22" stroke-width="1.2" opacity="0.9"/>
<circle cx="794.4" cy="886.6" r="7.2" fill="#c2c22a" stroke="#9a9a22" stroke-width="1.2" opacity="0.9"/>
<circle cx="486.1" cy="789.1" r="7.2" fill="#c2c22a" stroke="#9a9a22" stroke-width="1.2" opacity="0.9"/>
<circle cx="465.4" cy="722.4" r="7.2" fill="#c2c22a" stroke="#9a9a22" stroke-width="1.2" opacity="0.9"/>
<circle cx="470.6" cy="747.9" r="7.2" fill="#c2c22a" stroke="#9a9a22" stroke-width="1.2" opacity="0.9"/>
<circle cx="476.6" cy="766.9" r="7.2" fill="#c2c22a" stroke="#9a9a22" stroke-width="1.2" opacity="0.9"/>
<circle cx="522.6" cy="537.9" r="7.2" fill="#c2c22a" stroke="#9a9a22" stroke-width="1.2" opacity="0.9"/>
<circle cx="463.6" cy="673.8" r="7.2" fill="#c2c22a" stroke="#9a9a22" stroke-width="1.2" opacity="0.9"/>
<circle cx="463.0" cy="688.0" r="7.2" fill="#c2c22a" stroke="#9a9a22" stroke-width="1.2" opacity="0.9"/>
<circle cx="464.3" cy="714.5" r="7.2" fill="#c2c22a" stroke="#9a9a22" stroke-width="1.2" opacity="0.9"/>
<circle cx="660.4" cy="467.6" r="7.2" fill="#c2c22a" stroke="#9a9a22" stroke-width="1.2" opacity="0.9"/>
<circle cx="574.7" cy="496.2" r="7.2" fill="#c2c22a" stroke="#9a9a22" stroke-width="1.2" opacity="0.9"/>
<circle cx="562.8" cy="503.6" r="7.2" fill="#c2c22a" stroke="#9a9a22" stroke-width="1.2" opacity="0.9"/>
<circle cx="550.7" cy="512.3" r="7.2" fill="#c2c22a" stroke="#9a9a22" stroke-width="1.2" opacity="0.9"/>
<circle cx="539.2" cy="521.7" r="7.2" fill="#c2c22a" stroke="#9a9a22" stroke-width="1.2" opacity="0.9"/>
<circle cx="710.8" cy="467.3" r="7.2" fill="#c2c22a" stroke="#9a9a22" stroke-width="1.2" opacity="0.9"/>
<circle cx="690.2" cy="466.0" r="7.2" fill="#c2c22a" stroke="#9a9a22" stroke-width="1.2" opacity="0.9"/>
<circle cx="704.7" cy="522.9" r="8" fill="#c2c22a" stroke="#9a9a22" stroke-width="1.2" opacity="0.9"/>
<circle cx="844.3" cy="631.0" r="8" fill="#c2c22a" stroke="#9a9a22" stroke-width="1.2" opacity="0.9"/>
<circle cx="849.8" cy="648.6" r="8" fill="#c2c22a" stroke="#9a9a22" stroke-width="1.2" opacity="0.9"/>
<circle cx="582.0" cy="821.1" r="8" fill="#c2c22a" stroke="#9a9a22" stroke-width="1.2" opacity="0.9"/>
<circle cx="537.4" cy="766.4" r="8" fill="#c2c22a" stroke="#9a9a22" stroke-width="1.2" opacity="0.9"/>
<circle cx="527.7" cy="743.4" r="8" fill="#c2c22a" stroke="#9a9a22" stroke-width="1.2" opacity="0.9"/>
<circle cx="521.0" cy="715.6" r="8" fill="#c2c22a" stroke="#9a9a22" stroke-width="1.2" opacity="0.9"/>
<circle cx="519.1" cy="683.5" r="8" fill="#c2c22a" stroke="#9a9a22" stroke-width="1.2" opacity="0.9"/>
<circle cx="603.8" cy="544.0" r="8" fill="#c2c22a" stroke="#9a9a22" stroke-width="1.2" opacity="0.9"/>
<circle cx="589.9" cy="552.9" r="8" fill="#c2c22a" stroke="#9a9a22" stroke-width="1.2" opacity="0.9"/>
<circle cx="578.7" cy="561.6" r="8" fill="#c2c22a" stroke="#9a9a22" stroke-width="1.2" opacity="0.9"/>
<circle cx="519.0" cy="692.1" r="8" fill="#c2c22a" stroke="#9a9a22" stroke-width="1.2" opacity="0.9"/>
<circle cx="619.1" cy="600.9" r="9" fill="#c2c22a" stroke="#9a9a22" stroke-width="1.2" opacity="0.9"/>
<circle cx="575.9" cy="704.4" r="9" fill="#c2c22a" stroke="#9a9a22" stroke-width="1.2" opacity="0.9"/>
<circle cx="581.3" cy="727.0" r="9" fill="#c2c22a" stroke="#9a9a22" stroke-width="1.2" opacity="0.9"/>
<circle cx="586.4" cy="739.2" r="9" fill="#c2c22a" stroke="#9a9a22" stroke-width="1.2" opacity="0.9"/>
<circle cx="617.3" cy="777.6" r="9" fill="#c2c22a" stroke="#9a9a22" stroke-width="1.2" opacity="0.9"/>
<circle cx="1078.7" cy="673.5" r="9.0" fill="#e01414" stroke="#a00c0c" stroke-width="1.2" opacity="0.95"/>
<circle cx="1072.7" cy="759.8" r="9.0" fill="#1414d2" stroke="#0c0c90" stroke-width="1.2" opacity="0.95"/>
<circle cx="1023.1" cy="891.7" r="9.0" fill="#e01414" stroke="#a00c0c" stroke-width="1.2" opacity="0.95"/>
<circle cx="1013.7" cy="906.7" r="9.0" fill="#e01414" stroke="#a00c0c" stroke-width="1.2" opacity="0.95"/>
<circle cx="1003.5" cy="921.3" r="9.0" fill="#e01414" stroke="#a00c0c" stroke-width="1.2" opacity="0.95"/>
<circle cx="895.0" cy="1022.3" r="9.0" fill="#e01414" stroke="#a00c0c" stroke-width="1.2" opacity="0.95"/>
<circle cx="822.5" cy="1057.8" r="9.0" fill="#e01414" stroke="#a00c0c" stroke-width="1.2" opacity="0.95"/>
<circle cx="678.0" cy="1081.9" r="9.0" fill="#1414d2" stroke="#0c0c90" stroke-width="1.2" opacity="0.95"/>
<circle cx="759.4" cy="1075.3" r="9.0" fill="#1f7a3c" stroke="#145228" stroke-width="1.2" opacity="0.95"/>
<circle cx="550.6" cy="1057.5" r="9.0" fill="#1414d2" stroke="#0c0c90" stroke-width="1.2" opacity="0.95"/>
<circle cx="369.7" cy="920.2" r="9.0" fill="#e01414" stroke="#a00c0c" stroke-width="1.2" opacity="0.95"/>
<circle cx="545.4" cy="324.5" r="9.0" fill="#1f7a3c" stroke="#145228" stroke-width="1.2" opacity="0.95"/>
<circle cx="594.0" cy="309.2" r="9.0" fill="#1414d2" stroke="#0c0c90" stroke-width="1.2" opacity="0.95"/>
<circle cx="755.9" cy="304.1" r="9.0" fill="#1414d2" stroke="#0c0c90" stroke-width="1.2" opacity="0.95"/>
<circle cx="863.1" cy="339.8" r="9.0" fill="#e01414" stroke="#a00c0c" stroke-width="1.2" opacity="0.95"/>
<circle cx="875.3" cy="346.2" r="9.0" fill="#e01414" stroke="#a00c0c" stroke-width="1.2" opacity="0.95"/>
<circle cx="886.7" cy="352.7" r="9.0" fill="#e01414" stroke="#a00c0c" stroke-width="1.2" opacity="0.95"/>
<circle cx="965.6" cy="414.2" r="9.0" fill="#e01414" stroke="#a00c0c" stroke-width="1.2" opacity="0.95"/>
<circle cx="989.9" cy="441.2" r="9.0" fill="#e01414" stroke="#a00c0c" stroke-width="1.2" opacity="0.95"/>
<circle cx="1004.2" cy="459.7" r="9.0" fill="#1414d2" stroke="#0c0c90" stroke-width="1.2" opacity="0.95"/>
<circle cx="1077.5" cy="724.2" r="9.0" fill="#1f7a3c" stroke="#145228" stroke-width="1.2" opacity="0.95"/>
<circle cx="1076.9" cy="731.0" r="9.0" fill="#1f7a3c" stroke="#145228" stroke-width="1.2" opacity="0.95"/>
<circle cx="1076.1" cy="737.8" r="9.0" fill="#1f7a3c" stroke="#145228" stroke-width="1.2" opacity="0.95"/>
<circle cx="1075.2" cy="744.6" r="9.0" fill="#1f7a3c" stroke="#145228" stroke-width="1.2" opacity="0.95"/>
<circle cx="1074.2" cy="751.3" r="9.0" fill="#1f7a3c" stroke="#145228" stroke-width="1.2" opacity="0.95"/>
<circle cx="1071.3" cy="767.5" r="9.0" fill="#1f7a3c" stroke="#145228" stroke-width="1.2" opacity="0.95"/>
<circle cx="1069.9" cy="774.2" r="9.0" fill="#1f7a3c" stroke="#145228" stroke-width="1.2" opacity="0.95"/>
<circle cx="1068.3" cy="780.8" r="9.0" fill="#1f7a3c" stroke="#145228" stroke-width="1.2" opacity="0.95"/>
<circle cx="1066.7" cy="787.5" r="9.0" fill="#1f7a3c" stroke="#145228" stroke-width="1.2" opacity="0.95"/>
<circle cx="983.3" cy="946.7" r="9.0" fill="#1f7a3c" stroke="#145228" stroke-width="1.2" opacity="0.95"/>
<circle cx="562.6" cy="1061.7" r="9.0" fill="#1414d2" stroke="#0c0c90" stroke-width="1.2" opacity="0.95"/>
<circle cx="540.2" cy="1053.5" r="9.0" fill="#1414d2" stroke="#0c0c90" stroke-width="1.2" opacity="0.95"/>
<circle cx="1022.7" cy="675.3" r="9.0" fill="#e01414" stroke="#a00c0c" stroke-width="1.2" opacity="0.95"/>
<circle cx="1020.4" cy="731.4" r="9.0" fill="#1f7a3c" stroke="#145228" stroke-width="1.2" opacity="0.95"/>
<circle cx="1014.6" cy="764.6" r="9.0" fill="#1f7a3c" stroke="#145228" stroke-width="1.2" opacity="0.95"/>
<circle cx="970.8" cy="869.9" r="9.0" fill="#e01414" stroke="#a00c0c" stroke-width="1.2" opacity="0.95"/>
<circle cx="957.2" cy="889.7" r="9.0" fill="#e01414" stroke="#a00c0c" stroke-width="1.2" opacity="0.95"/>
<circle cx="942.2" cy="908.6" r="9.0" fill="#1f7a3c" stroke="#145228" stroke-width="1.2" opacity="0.95"/>
<circle cx="866.7" cy="973.9" r="9.0" fill="#e01414" stroke="#a00c0c" stroke-width="1.2" opacity="0.95"/>
<circle cx="804.1" cy="1004.9" r="9.0" fill="#e01414" stroke="#a00c0c" stroke-width="1.2" opacity="0.95"/>
<circle cx="674.9" cy="1025.8" r="9.0" fill="#1414d2" stroke="#0c0c90" stroke-width="1.2" opacity="0.95"/>
<circle cx="748.1" cy="1020.4" r="9.0" fill="#1f7a3c" stroke="#145228" stroke-width="1.2" opacity="0.95"/>
<circle cx="567.6" cy="1004.1" r="9.0" fill="#1414d2" stroke="#0c0c90" stroke-width="1.2" opacity="0.95"/>
<circle cx="411.9" cy="883.0" r="9.0" fill="#e01414" stroke="#a00c0c" stroke-width="1.2" opacity="0.95"/>
<circle cx="565.0" cy="376.9" r="9.0" fill="#1f7a3c" stroke="#145228" stroke-width="1.2" opacity="0.95"/>
<circle cx="611.0" cy="362.7" r="9.0" fill="#1414d2" stroke="#0c0c90" stroke-width="1.2" opacity="0.95"/>
<circle cx="761.2" cy="362.3" r="9.0" fill="#1414d2" stroke="#0c0c90" stroke-width="1.2" opacity="0.95"/>
<circle cx="855.3" cy="399.2" r="9.0" fill="#e01414" stroke="#a00c0c" stroke-width="1.2" opacity="0.95"/>
<circle cx="923.9" cy="451.7" r="9.0" fill="#e01414" stroke="#a00c0c" stroke-width="1.2" opacity="0.95"/>
<circle cx="970.1" cy="509.1" r="9.0" fill="#1414d2" stroke="#0c0c90" stroke-width="1.2" opacity="0.95"/>
<circle cx="966.8" cy="679.7" r="9.0" fill="#e01414" stroke="#a00c0c" stroke-width="1.2" opacity="0.95"/>
<circle cx="963.6" cy="733.3" r="9.0" fill="#1f7a3c" stroke="#145228" stroke-width="1.2" opacity="0.95"/>
<circle cx="919.9" cy="845.4" r="9.0" fill="#e01414" stroke="#a00c0c" stroke-width="1.2" opacity="0.95"/>
<circle cx="899.6" cy="872.2" r="9.0" fill="#1f7a3c" stroke="#145228" stroke-width="1.2" opacity="0.95"/>
<circle cx="834.5" cy="928.0" r="9.0" fill="#e01414" stroke="#a00c0c" stroke-width="1.2" opacity="0.95"/>
<circle cx="781.5" cy="953.6" r="9.0" fill="#e01414" stroke="#a00c0c" stroke-width="1.2" opacity="0.95"/>
<circle cx="675.9" cy="969.8" r="9.0" fill="#1414d2" stroke="#0c0c90" stroke-width="1.2" opacity="0.95"/>
<circle cx="736.4" cy="965.6" r="9.0" fill="#1f7a3c" stroke="#145228" stroke-width="1.2" opacity="0.95"/>
<circle cx="591.8" cy="953.3" r="9.0" fill="#1414d2" stroke="#0c0c90" stroke-width="1.2" opacity="0.95"/>
<circle cx="458.5" cy="851.8" r="9.0" fill="#e01414" stroke="#a00c0c" stroke-width="1.2" opacity="0.95"/>
<circle cx="479.1" cy="877.5" r="9.0" fill="#e01414" stroke="#a00c0c" stroke-width="1.2" opacity="0.95"/>
<circle cx="462.3" cy="523.0" r="9.0" fill="#e01414" stroke="#a00c0c" stroke-width="1.2" opacity="0.95"/>
<circle cx="441.7" cy="555.0" r="9.0" fill="#e01414" stroke="#a00c0c" stroke-width="1.2" opacity="0.95"/>
<circle cx="422.7" cy="597.5" r="9.0" fill="#e01414" stroke="#a00c0c" stroke-width="1.2" opacity="0.95"/>
<circle cx="586.3" cy="428.7" r="9.0" fill="#1f7a3c" stroke="#145228" stroke-width="1.2" opacity="0.95"/>
<circle cx="611.0" cy="420.5" r="9.0" fill="#1414d2" stroke="#0c0c90" stroke-width="1.2" opacity="0.95"/>
<circle cx="752.1" cy="417.7" r="9.0" fill="#1414d2" stroke="#0c0c90" stroke-width="1.2" opacity="0.95"/>
<circle cx="880.7" cy="487.8" r="9.0" fill="#e01414" stroke="#a00c0c" stroke-width="1.2" opacity="0.95"/>
<circle cx="844.7" cy="530.9" r="9.0" fill="#e01414" stroke="#a00c0c" stroke-width="1.2" opacity="0.95"/>
<circle cx="874.0" cy="813.3" r="9.0" fill="#e01414" stroke="#a00c0c" stroke-width="1.2" opacity="0.95"/>
<circle cx="856.8" cy="836.1" r="9.0" fill="#1f7a3c" stroke="#145228" stroke-width="1.2" opacity="0.95"/>
<circle cx="828.8" cy="863.4" r="9.0" fill="#e01414" stroke="#a00c0c" stroke-width="1.2" opacity="0.95"/>
<circle cx="807.9" cy="878.6" r="9.0" fill="#e01414" stroke="#a00c0c" stroke-width="1.2" opacity="0.95"/>
<circle cx="520.5" cy="839.9" r="9.0" fill="#e01414" stroke="#a00c0c" stroke-width="1.2" opacity="0.95"/>
<circle cx="503.1" cy="817.9" r="9.0" fill="#e01414" stroke="#a00c0c" stroke-width="1.2" opacity="0.95"/>
<circle cx="507.0" cy="556.7" r="9.0" fill="#e01414" stroke="#a00c0c" stroke-width="1.2" opacity="0.95"/>
<circle cx="910.8" cy="680.5" r="9.0" fill="#e01414" stroke="#a00c0c" stroke-width="1.2" opacity="0.95"/>
<circle cx="908.3" cy="724.4" r="9.0" fill="#1f7a3c" stroke="#145228" stroke-width="1.2" opacity="0.95"/>
<circle cx="762.4" cy="900.9" r="9.0" fill="#e01414" stroke="#a00c0c" stroke-width="1.2" opacity="0.95"/>
<circle cx="632.2" cy="907.2" r="9.0" fill="#1414d2" stroke="#0c0c90" stroke-width="1.2" opacity="0.95"/>
<circle cx="697.3" cy="913.8" r="9.0" fill="#1414d2" stroke="#0c0c90" stroke-width="1.2" opacity="0.95"/>
<circle cx="575.1" cy="884.0" r="9.0" fill="#1414d2" stroke="#0c0c90" stroke-width="1.2" opacity="0.95"/>
<circle cx="477.0" cy="612.1" r="9.0" fill="#e01414" stroke="#a00c0c" stroke-width="1.2" opacity="0.95"/>
<circle cx="605.9" cy="481.2" r="9.0" fill="#1f7a3c" stroke="#145228" stroke-width="1.2" opacity="0.95"/>
<circle cx="625.3" cy="474.7" r="9.0" fill="#1414d2" stroke="#0c0c90" stroke-width="1.2" opacity="0.95"/>
<circle cx="747.0" cy="474.2" r="9.0" fill="#1414d2" stroke="#0c0c90" stroke-width="1.2" opacity="0.95"/>
<circle cx="651.2" cy="525.9" r="9.5" fill="#1414d2" stroke="#0c0c90" stroke-width="1.2" opacity="0.95"/>
<circle cx="787.7" cy="555.5" r="9.5" fill="#e01414" stroke="#a00c0c" stroke-width="1.2" opacity="0.95"/>
<circle cx="854.7" cy="679.3" r="9.5" fill="#e01414" stroke="#a00c0c" stroke-width="1.2" opacity="0.95"/>
<circle cx="843.3" cy="751.7" r="9.5" fill="#1f7a3c" stroke="#145228" stroke-width="1.2" opacity="0.95"/>
<circle cx="798.8" cy="815.4" r="9.5" fill="#e01414" stroke="#a00c0c" stroke-width="1.2" opacity="0.95"/>
<circle cx="750.8" cy="845.4" r="9.5" fill="#e01414" stroke="#a00c0c" stroke-width="1.2" opacity="0.95"/>
<circle cx="665.8" cy="856.7" r="9.5" fill="#1414d2" stroke="#0c0c90" stroke-width="1.2" opacity="0.95"/>
<circle cx="557.1" cy="796.5" r="9.5" fill="#e01414" stroke="#a00c0c" stroke-width="1.2" opacity="0.95"/>
<circle cx="536.4" cy="615.6" r="9.5" fill="#e01414" stroke="#a00c0c" stroke-width="1.2" opacity="0.95"/>
<circle cx="604.0" cy="836.1" r="9.5" fill="#1414d2" stroke="#0c0c90" stroke-width="1.2" opacity="0.95"/>
<circle cx="662.4" cy="580.7" r="9.5" fill="#1f7a3c" stroke="#145228" stroke-width="1.2" opacity="0.95"/>
<circle cx="583.6" cy="646.9" r="9.5" fill="#e01414" stroke="#a00c0c" stroke-width="1.2" opacity="0.95"/>
<circle cx="600.6" cy="761.3" r="9.5" fill="#e01414" stroke="#a00c0c" stroke-width="1.2" opacity="0.95"/>
<circle cx="631.8" cy="787.5" r="9.5" fill="#1414d2" stroke="#0c0c90" stroke-width="1.2" opacity="0.95"/>
<circle cx="746.5" cy="784.9" r="9.5" fill="#1f7a3c" stroke="#145228" stroke-width="1.2" opacity="0.95"/>
<circle cx="798.7" cy="682.2" r="9.5" fill="#e01414" stroke="#a00c0c" stroke-width="1.2" opacity="0.95"/>
<circle cx="764.8" cy="609.4" r="9.5" fill="#e01414" stroke="#a00c0c" stroke-width="1.2" opacity="0.95"/>
<circle cx="630.1" cy="693.0" r="10" fill="#c2c22a" stroke="#9a9a22" stroke-width="1.2"/>
<text x="147.6" y="441.3" transform="rotate(294.8 147.6 441.3)" font-size="31" fill="#861c1c" text-anchor="middle" dominant-baseline="central">b5</text>
<text x="195.2" y="428.5" transform="rotate(298.0 195.2 428.5)" font-size="31" fill="#861c1c" text-anchor="middle" dominant-baseline="central">b4</text>
<text x="200.3" y="501.2" transform="rotate(291.2 200.3 501.2)" font-size="31" fill="#861c1c" text-anchor="middle" dominant-baseline="central">b3</text>
<text x="270.7" y="375.1" transform="rotate(307.1 270.7 375.1)" font-size="31" fill="#861c1c" text-anchor="middle" dominant-baseline="central">b0</text>
<text x="231.8" y="519.8" transform="rotate(290.5 231.8 519.8)" font-size="31" fill="#861c1c" text-anchor="middle" dominant-baseline="central">b2</text>
<text x="263.0" y="452.5" transform="rotate(299.2 263.0 452.5)" font-size="31" fill="#861c1c" text-anchor="middle" dominant-baseline="central">b1</text>
<text x="299.4" y="396.8" transform="rotate(307.1 299.4 396.8)" font-size="31" fill="#861c1c" text-anchor="middle" dominant-baseline="central">a9</text>
<text x="564.0" y="108.9" transform="rotate(348.1 564.0 108.9)" font-size="31" fill="#1f5a2e" text-anchor="middle" dominant-baseline="central">a8</text>
<text x="578.8" y="143.6" transform="rotate(348.8 578.8 143.6)" font-size="31" fill="#1c1c7c" text-anchor="middle" dominant-baseline="central">a7</text>
<text x="501.2" y="202.2" transform="rotate(339.1 501.2 202.2)" font-size="31" fill="#1f5a2e" text-anchor="middle" dominant-baseline="central">a6</text>
<text x="553.2" y="185.4" transform="rotate(345.1 553.2 185.4)" font-size="31" fill="#1c1c7c" text-anchor="middle" dominant-baseline="central">a2</text>
<text x="512.0" y="236.6" transform="rotate(338.9 512.0 236.6)" font-size="31" fill="#1f5a2e" text-anchor="middle" dominant-baseline="central">a5</text>
<text x="556.7" y="221.8" transform="rotate(344.5 556.7 221.8)" font-size="31" fill="#1c1c7c" text-anchor="middle" dominant-baseline="central">a1</text>
<text x="524.6" y="271.4" transform="rotate(338.8 524.6 271.4)" font-size="31" fill="#1f5a2e" text-anchor="middle" dominant-baseline="central">a4</text>
<text x="584.1" y="253.0" transform="rotate(346.8 584.1 253.0)" font-size="31" fill="#1c1c7c" text-anchor="middle" dominant-baseline="central">a0</text>
<text x="537.6" y="305.0" transform="rotate(338.8 537.6 305.0)" font-size="31" fill="#1f5a2e" text-anchor="middle" dominant-baseline="central">a3</text>
<text x="588.8" y="288.8" transform="rotate(346.2 588.8 288.8)" font-size="31" fill="#1c1c7c" text-anchor="middle" dominant-baseline="central">z</text>
<text x="1103.7" y="266.7" transform="rotate(404.6 1103.7 266.7)" font-size="31" fill="#861c1c" text-anchor="middle" dominant-baseline="central">y</text>
<text x="1023.4" y="246.0" transform="rotate(397.1 1023.4 246.0)" font-size="31" fill="#861c1c" text-anchor="middle" dominant-baseline="central">x</text>
<text x="826.1" y="186.9" transform="rotate(375.5 826.1 186.9)" font-size="31" fill="#1c1c7c" text-anchor="middle" dominant-baseline="central">w</text>
<text x="800.5" y="217.4" transform="rotate(373.5 800.5 217.4)" font-size="31" fill="#1c1c7c" text-anchor="middle" dominant-baseline="central">v</text>
<text x="781.5" y="251.1" transform="rotate(372.1 781.5 251.1)" font-size="31" fill="#1c1c7c" text-anchor="middle" dominant-baseline="central">u</text>
<text x="759.8" y="283.5" transform="rotate(370.1 759.8 283.5)" font-size="31" fill="#1c1c7c" text-anchor="middle" dominant-baseline="central">t</text>
<text x="1058.0" y="322.8" transform="rotate(405.3 1058.0 322.8)" font-size="31" fill="#861c1c" text-anchor="middle" dominant-baseline="central">q</text>
<text x="1021.8" y="337.8" transform="rotate(403.6 1021.8 337.8)" font-size="31" fill="#861c1c" text-anchor="middle" dominant-baseline="central">p</text>
<text x="910.1" y="300.4" transform="rotate(389.8 910.1 300.4)" font-size="31" fill="#861c1c" text-anchor="middle" dominant-baseline="central">o</text>
<text x="877.7" y="323.7" transform="rotate(387.5 877.7 323.7)" font-size="31" fill="#861c1c" text-anchor="middle" dominant-baseline="central">n</text>
<text x="1001.7" y="369.8" transform="rotate(404.5 1001.7 369.8)" font-size="31" fill="#861c1c" text-anchor="middle" dominant-baseline="central">k</text>
<text x="982.8" y="401.8" transform="rotate(405.8 982.8 401.8)" font-size="31" fill="#861c1c" text-anchor="middle" dominant-baseline="central">j</text>
<text x="1006.1" y="427.9" transform="rotate(410.6 1006.1 427.9)" font-size="31" fill="#861c1c" text-anchor="middle" dominant-baseline="central">i</text>
<text x="1064.6" y="447.1" transform="rotate(417.2 1064.6 447.1)" font-size="31" fill="#1c1c7c" text-anchor="middle" dominant-baseline="central">h</text>
<text x="1020.7" y="446.7" transform="rotate(413.9 1020.7 446.7)" font-size="31" fill="#1c1c7c" text-anchor="middle" dominant-baseline="central">g</text>
<text x="1279.2" y="644.4" transform="rotate(445.6 1279.2 644.4)" font-size="31" fill="#861c1c" text-anchor="middle" dominant-baseline="central">f</text>
<text x="1242.4" y="648.2" transform="rotate(445.7 1242.4 648.2)" font-size="31" fill="#861c1c" text-anchor="middle" dominant-baseline="central">e</text>
<text x="1208.5" y="668.1" transform="rotate(447.6 1208.5 668.1)" font-size="31" fill="#861c1c" text-anchor="middle" dominant-baseline="central">d</text>
<text x="1172.6" y="669.6" transform="rotate(447.6 1172.6 669.6)" font-size="31" fill="#861c1c" text-anchor="middle" dominant-baseline="central">c</text>
<text x="1135.6" y="671.2" transform="rotate(447.6 1135.6 671.2)" font-size="31" fill="#861c1c" text-anchor="middle" dominant-baseline="central">b</text>
<text x="1099.6" y="672.7" transform="rotate(447.6 1099.6 672.7)" font-size="31" fill="#861c1c" text-anchor="middle" dominant-baseline="central">a</text>
<text x="989.3" y="1206.3" transform="rotate(149.7 989.3 1206.3)" font-size="31" fill="#1f5a2e" text-anchor="middle" dominant-baseline="central">n3</text>
<text x="1201.3" y="908.9" transform="rotate(113.0 1201.3 908.9)" font-size="31" fill="#1f5a2e" text-anchor="middle" dominant-baseline="central">h2</text>
<text x="1202.3" y="778.8" transform="rotate(99.8 1202.3 778.8)" font-size="31" fill="#1f5a2e" text-anchor="middle" dominant-baseline="central">h1</text>
<text x="1166.5" y="774.5" transform="rotate(100.0 1166.5 774.5)" font-size="31" fill="#1f5a2e" text-anchor="middle" dominant-baseline="central">h0</text>
<text x="1133.5" y="742.8" transform="rotate(96.8 1133.5 742.8)" font-size="31" fill="#1f5a2e" text-anchor="middle" dominant-baseline="central">g9</text>
<text x="1126.0" y="789.3" transform="rotate(102.8 1126.0 789.3)" font-size="31" fill="#1f5a2e" text-anchor="middle" dominant-baseline="central">g6</text>
<text x="1098.3" y="733.2" transform="rotate(96.0 1098.3 733.2)" font-size="31" fill="#1f5a2e" text-anchor="middle" dominant-baseline="central">g8</text>
<text x="1094.3" y="763.6" transform="rotate(100.2 1094.3 763.6)" font-size="31" fill="#1c1c7c" text-anchor="middle" dominant-baseline="central">g7</text>
<text x="1091.3" y="779.6" transform="rotate(102.5 1091.3 779.6)" font-size="31" fill="#1f5a2e" text-anchor="middle" dominant-baseline="central">g5</text>
<text x="1088.2" y="793.0" transform="rotate(104.4 1088.2 793.0)" font-size="31" fill="#1f5a2e" text-anchor="middle" dominant-baseline="central">g3</text>
<text x="1125.8" y="977.7" transform="rotate(123.2 1125.8 977.7)" font-size="31" fill="#861c1c" text-anchor="middle" dominant-baseline="central">g2</text>
<text x="1095.7" y="958.0" transform="rotate(123.2 1095.7 958.0)" font-size="31" fill="#861c1c" text-anchor="middle" dominant-baseline="central">g1</text>
<text x="1068.4" y="932.0" transform="rotate(122.4 1068.4 932.0)" font-size="31" fill="#861c1c" text-anchor="middle" dominant-baseline="central">g0</text>
<text x="1051.5" y="957.2" transform="rotate(126.2 1051.5 957.2)" font-size="31" fill="#861c1c" text-anchor="middle" dominant-baseline="central">f7</text>
<text x="1043.2" y="904.0" transform="rotate(121.0 1043.2 904.0)" font-size="31" fill="#861c1c" text-anchor="middle" dominant-baseline="central">f9</text>
<text x="1033.3" y="920.1" transform="rotate(123.6 1033.3 920.1)" font-size="31" fill="#861c1c" text-anchor="middle" dominant-baseline="central">f8</text>
<text x="1022.7" y="935.7" transform="rotate(126.2 1022.7 935.7)" font-size="31" fill="#861c1c" text-anchor="middle" dominant-baseline="central">f5</text>
<text x="1087.3" y="1030.1" transform="rotate(130.3 1087.3 1030.1)" font-size="31" fill="#1f5a2e" text-anchor="middle" dominant-baseline="central">f4</text>
<text x="1059.8" y="1006.8" transform="rotate(130.3 1059.8 1006.8)" font-size="31" fill="#1f5a2e" text-anchor="middle" dominant-baseline="central">f3</text>
<text x="1030.9" y="983.7" transform="rotate(130.5 1030.9 983.7)" font-size="31" fill="#1f5a2e" text-anchor="middle" dominant-baseline="central">f2</text>
<text x="1003.5" y="960.3" transform="rotate(130.5 1003.5 960.3)" font-size="31" fill="#1f5a2e" text-anchor="middle" dominant-baseline="central">f1</text>
<text x="1055.6" y="1112.6" transform="rotate(138.9 1055.6 1112.6)" font-size="31" fill="#861c1c" text-anchor="middle" dominant-baseline="central">r1</text>
<text x="1008.6" y="1106.1" transform="rotate(142.3 1008.6 1106.1)" font-size="31" fill="#861c1c" text-anchor="middle" dominant-baseline="central">f0</text>
<text x="894.2" y="1212.0" transform="rotate(158.3 894.2 1212.0)" font-size="31" fill="#861c1c" text-anchor="middle" dominant-baseline="central">e9</text>
<text x="972.0" y="1132.3" transform="rotate(147.2 972.0 1132.3)" font-size="31" fill="#861c1c" text-anchor="middle" dominant-baseline="central">e8</text>
<text x="954.7" y="1100.6" transform="rotate(146.9 954.7 1100.6)" font-size="31" fill="#861c1c" text-anchor="middle" dominant-baseline="central">e7</text>
<text x="935.1" y="1069.2" transform="rotate(146.8 935.1 1069.2)" font-size="31" fill="#861c1c" text-anchor="middle" dominant-baseline="central">e6</text>
<text x="915.4" y="1039.1" transform="rotate(146.8 915.4 1039.1)" font-size="31" fill="#861c1c" text-anchor="middle" dominant-baseline="central">e5</text>
<text x="849.8" y="1191.0" transform="rotate(162.0 849.8 1191.0)" font-size="31" fill="#861c1c" text-anchor="middle" dominant-baseline="central">e4</text>
<text x="848.8" y="1153.3" transform="rotate(160.8 848.8 1153.3)" font-size="31" fill="#861c1c" text-anchor="middle" dominant-baseline="central">e3</text>
<text x="844.0" y="1115.6" transform="rotate(159.8 844.0 1115.6)" font-size="31" fill="#861c1c" text-anchor="middle" dominant-baseline="central">e2</text>
<text x="836.7" y="1079.9" transform="rotate(159.0 836.7 1079.9)" font-size="31" fill="#861c1c" text-anchor="middle" dominant-baseline="central">e1</text>
<text x="775.2" y="1172.9" transform="rotate(169.7 775.2 1172.9)" font-size="31" fill="#1f5a2e" text-anchor="middle" dominant-baseline="central">e0</text>
<text x="768.6" y="1136.5" transform="rotate(169.7 768.6 1136.5)" font-size="31" fill="#1f5a2e" text-anchor="middle" dominant-baseline="central">d9</text>
<text x="762.1" y="1101.1" transform="rotate(169.7 762.1 1101.1)" font-size="31" fill="#1f5a2e" text-anchor="middle" dominant-baseline="central">d8</text>
<text x="604.4" y="1245.8" transform="rotate(188.4 604.4 1245.8)" font-size="31" fill="#1c1c7c" text-anchor="middle" dominant-baseline="central">d7</text>
<text x="708.6" y="1216.6" transform="rotate(177.7 708.6 1216.6)" font-size="31" fill="#1c1c7c" text-anchor="middle" dominant-baseline="central">d6</text>
<text x="671.6" y="1180.8" transform="rotate(181.8 671.6 1180.8)" font-size="31" fill="#1c1c7c" text-anchor="middle" dominant-baseline="central">d5</text>
<text x="680.7" y="1144.0" transform="rotate(180.8 680.7 1144.0)" font-size="31" fill="#1c1c7c" text-anchor="middle" dominant-baseline="central">d4</text>
<text x="681.2" y="1108.0" transform="rotate(180.8 681.2 1108.0)" font-size="31" fill="#1c1c7c" text-anchor="middle" dominant-baseline="central">d3</text>
<text x="552.4" y="1199.4" transform="rotate(194.8 552.4 1199.4)" font-size="31" fill="#1c1c7c" text-anchor="middle" dominant-baseline="central">d2</text>
<text x="518.8" y="1151.0" transform="rotate(200.1 518.8 1151.0)" font-size="31" fill="#1c1c7c" text-anchor="middle" dominant-baseline="central">d1</text>
<text x="531.8" y="1116.3" transform="rotate(200.0 531.8 1116.3)" font-size="31" fill="#1c1c7c" text-anchor="middle" dominant-baseline="central">d08</text>
<text x="544.1" y="1082.5" transform="rotate(200.0 544.1 1082.5)" font-size="31" fill="#1c1c7c" text-anchor="middle" dominant-baseline="central">c87</text>
<text x="382.4" y="1205.0" transform="rotate(210.6 382.4 1205.0)" font-size="31" fill="#1c1c7c" text-anchor="middle" dominant-baseline="central">c6</text>
<text x="401.3" y="1173.1" transform="rotate(210.6 401.3 1173.1)" font-size="31" fill="#1c1c7c" text-anchor="middle" dominant-baseline="central">c5</text>
<text x="419.1" y="1143.0" transform="rotate(210.6 419.1 1143.0)" font-size="31" fill="#1c1c7c" text-anchor="middle" dominant-baseline="central">c4</text>
<text x="212.7" y="1052.6" transform="rotate(232.6 212.7 1052.6)" font-size="31" fill="#861c1c" text-anchor="middle" dominant-baseline="central">c3</text>
<text x="242.1" y="1030.2" transform="rotate(232.6 242.1 1030.2)" font-size="31" fill="#861c1c" text-anchor="middle" dominant-baseline="central">c2</text>
<text x="248.7" y="978.5" transform="rotate(236.7 248.7 978.5)" font-size="31" fill="#861c1c" text-anchor="middle" dominant-baseline="central">b9</text>
<text x="294.5" y="1039.1" transform="rotate(228.4 294.5 1039.1)" font-size="31" fill="#861c1c" text-anchor="middle" dominant-baseline="central">c1</text>
<text x="287.8" y="972.2" transform="rotate(234.8 287.8 972.2)" font-size="31" fill="#861c1c" text-anchor="middle" dominant-baseline="central">b8</text>
<text x="323.9" y="1018.1" transform="rotate(227.9 323.9 1018.1)" font-size="31" fill="#861c1c" text-anchor="middle" dominant-baseline="central">c0</text>
<text x="316.9" y="949.2" transform="rotate(235.0 316.9 949.2)" font-size="31" fill="#861c1c" text-anchor="middle" dominant-baseline="central">b7</text>
<text x="350.5" y="934.5" transform="rotate(234.0 350.5 934.5)" font-size="31" fill="#861c1c" text-anchor="middle" dominant-baseline="central">b6</text>
<text x="548.5" y="75.4" transform="rotate(347.30 548.5 75.4)" font-size="47" fill="#1a1a1a" text-anchor="middle">Actinomycetota</text>
<text x="1133.3" y="245.3" transform="rotate(405.10 1133.3 245.3)" font-size="46" fill="#1a1a1a" text-anchor="middle">Acidobacterota</text>
<text x="112.8" y="423.5" transform="rotate(294.90 112.8 423.5)" font-size="44.5" fill="#1a1a1a" text-anchor="middle">Chloroflexota</text>
<text x="154.7" y="1080.3" transform="rotate(53.75 154.7 1080.3)" font-size="46" fill="#1a1a1a" text-anchor="middle">Nitrospirota</text>
<text x="1020.3" y="1259.7" transform="rotate(-30.33 1020.3 1259.7)" font-size="44.5" fill="#1a1a1a" text-anchor="middle">Pseudomonadota</text>
<g transform="translate(241.9,1253.2) rotate(29.7)"><text x="-3" y="-51.3" font-size="45" fill="#1a1a1a">Plancto-</text><text x="0" y="0" font-size="45" fill="#1a1a1a">mycetota</text></g>
<text x="1314" y="623.5" font-size="46" font-style="italic" fill="#1a1a1a">A</text>
<text x="1314" y="662" font-size="46" font-style="italic" fill="#1a1a1a">D</text>
<text x="1314" y="700" font-size="46" font-style="italic" fill="#1a1a1a">3</text>
<circle cx="43.3" cy="48.3" r="20" fill="#cccc10" stroke="#b8b820" stroke-width="1.5"/>
<text x="82" y="67.8" font-size="51" fill="#1e1e1e">mixed</text>
<circle cx="43.3" cy="110.3" r="20" fill="#ff0000" stroke="#cc1010" stroke-width="1.5"/>
<text x="82" y="129.8" font-size="51" fill="#1e1e1e">GM1</text>
<circle cx="43.3" cy="172.3" r="20" fill="#008000" stroke="#0a6a0a" stroke-width="1.5"/>
<text x="82" y="191.8" font-size="51" fill="#1e1e1e">GM2</text>
<circle cx="43.3" cy="234.3" r="20" fill="#0000ff" stroke="#1010d0" stroke-width="1.5"/>
<text x="82" y="253.8" font-size="51" fill="#1e1e1e">GM3</text>
</svg>
</body></html>
